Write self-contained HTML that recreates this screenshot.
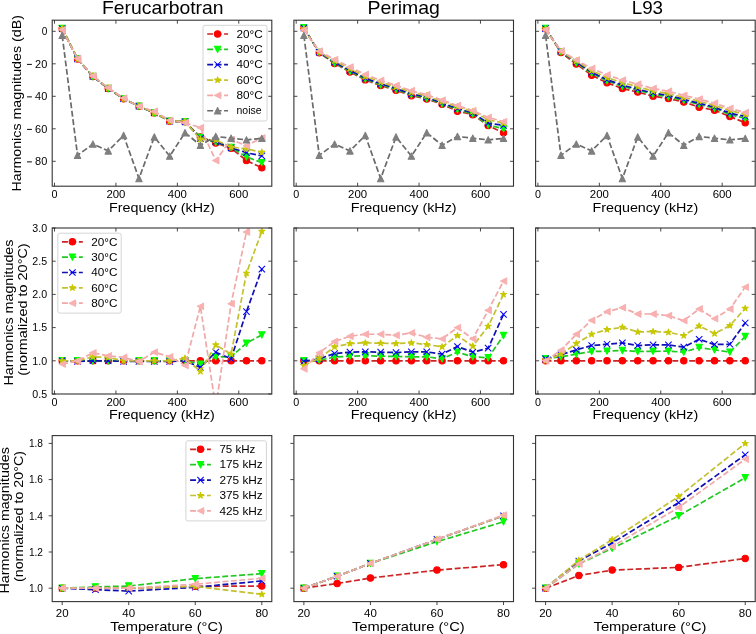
<!DOCTYPE html>
<html><head><meta charset="utf-8"><style>
html,body{margin:0;padding:0;background:#fff;}
svg{display:block;filter:blur(0.45px);}
text{font-family:"Liberation Sans", sans-serif;fill:#000000;}
</style></head><body>
<svg width="756" height="634" viewBox="0 0 756 634">
<rect width="756" height="634" fill="#ffffff"/>
<defs>
<clipPath id="c00"><rect x="52.2" y="20.2" width="219.6" height="166.0"/></clipPath>
<clipPath id="c01"><rect x="293.9" y="20.2" width="219.6" height="166.0"/></clipPath>
<clipPath id="c02"><rect x="535.6" y="20.2" width="219.6" height="166.0"/></clipPath>
<clipPath id="c10"><rect x="52.2" y="228.0" width="219.6" height="166.0"/></clipPath>
<clipPath id="c11"><rect x="293.9" y="228.0" width="219.6" height="166.0"/></clipPath>
<clipPath id="c12"><rect x="535.6" y="228.0" width="219.6" height="166.0"/></clipPath>
<clipPath id="c20"><rect x="52.2" y="435.6" width="219.6" height="166.0"/></clipPath>
<clipPath id="c21"><rect x="293.9" y="435.6" width="219.6" height="166.0"/></clipPath>
<clipPath id="c22"><rect x="535.6" y="435.6" width="219.6" height="166.0"/></clipPath>
</defs>
<g clip-path="url(#c00)">
<path d="M62.18,28.70L77.54,58.92L92.90,76.48L108.25,88.50L123.61,98.74L138.97,106.21L154.32,112.88L169.68,121.16L185.03,121.81L200.39,136.93L215.75,143.10L231.10,148.30L246.46,160.49L261.82,167.80" fill="none" stroke="#cc2424" stroke-width="1.7" stroke-dasharray="5.9,2.55"/>
<circle cx="62.18" cy="28.70" r="3.20" fill="#ff0000" stroke="#ff0000" stroke-width="1.05" stroke-linejoin="round"/>
<circle cx="77.54" cy="58.92" r="3.20" fill="#ff0000" stroke="#ff0000" stroke-width="1.05" stroke-linejoin="round"/>
<circle cx="92.90" cy="76.48" r="3.20" fill="#ff0000" stroke="#ff0000" stroke-width="1.05" stroke-linejoin="round"/>
<circle cx="108.25" cy="88.50" r="3.20" fill="#ff0000" stroke="#ff0000" stroke-width="1.05" stroke-linejoin="round"/>
<circle cx="123.61" cy="98.74" r="3.20" fill="#ff0000" stroke="#ff0000" stroke-width="1.05" stroke-linejoin="round"/>
<circle cx="138.97" cy="106.21" r="3.20" fill="#ff0000" stroke="#ff0000" stroke-width="1.05" stroke-linejoin="round"/>
<circle cx="154.32" cy="112.88" r="3.20" fill="#ff0000" stroke="#ff0000" stroke-width="1.05" stroke-linejoin="round"/>
<circle cx="169.68" cy="121.16" r="3.20" fill="#ff0000" stroke="#ff0000" stroke-width="1.05" stroke-linejoin="round"/>
<circle cx="185.03" cy="121.81" r="3.20" fill="#ff0000" stroke="#ff0000" stroke-width="1.05" stroke-linejoin="round"/>
<circle cx="200.39" cy="136.93" r="3.20" fill="#ff0000" stroke="#ff0000" stroke-width="1.05" stroke-linejoin="round"/>
<circle cx="215.75" cy="143.10" r="3.20" fill="#ff0000" stroke="#ff0000" stroke-width="1.05" stroke-linejoin="round"/>
<circle cx="231.10" cy="148.30" r="3.20" fill="#ff0000" stroke="#ff0000" stroke-width="1.05" stroke-linejoin="round"/>
<circle cx="246.46" cy="160.49" r="3.20" fill="#ff0000" stroke="#ff0000" stroke-width="1.05" stroke-linejoin="round"/>
<circle cx="261.82" cy="167.80" r="3.20" fill="#ff0000" stroke="#ff0000" stroke-width="1.05" stroke-linejoin="round"/>
<path d="M62.18,28.38L77.54,58.92L92.90,76.48L108.25,88.50L123.61,98.74L138.97,106.21L154.32,112.88L169.68,121.16L185.03,121.81L200.39,137.58L215.75,142.29L231.10,147.49L246.46,156.91L261.82,162.60" fill="none" stroke="#22c822" stroke-width="1.7" stroke-dasharray="5.9,2.55"/>
<path d="M58.98,25.18L65.38,25.18L62.18,31.57Z" fill="#00ff00" stroke="#00ff00" stroke-width="1.05" stroke-linejoin="round"/>
<path d="M74.34,55.72L80.74,55.72L77.54,62.12Z" fill="#00ff00" stroke="#00ff00" stroke-width="1.05" stroke-linejoin="round"/>
<path d="M89.70,73.28L96.10,73.28L92.90,79.68Z" fill="#00ff00" stroke="#00ff00" stroke-width="1.05" stroke-linejoin="round"/>
<path d="M105.05,85.30L111.45,85.30L108.25,91.70Z" fill="#00ff00" stroke="#00ff00" stroke-width="1.05" stroke-linejoin="round"/>
<path d="M120.41,95.54L126.81,95.54L123.61,101.94Z" fill="#00ff00" stroke="#00ff00" stroke-width="1.05" stroke-linejoin="round"/>
<path d="M135.77,103.01L142.17,103.01L138.97,109.41Z" fill="#00ff00" stroke="#00ff00" stroke-width="1.05" stroke-linejoin="round"/>
<path d="M151.12,109.67L157.52,109.67L154.32,116.08Z" fill="#00ff00" stroke="#00ff00" stroke-width="1.05" stroke-linejoin="round"/>
<path d="M166.48,117.96L172.88,117.96L169.68,124.36Z" fill="#00ff00" stroke="#00ff00" stroke-width="1.05" stroke-linejoin="round"/>
<path d="M181.83,118.61L188.23,118.61L185.03,125.01Z" fill="#00ff00" stroke="#00ff00" stroke-width="1.05" stroke-linejoin="round"/>
<path d="M197.19,134.38L203.59,134.38L200.39,140.78Z" fill="#00ff00" stroke="#00ff00" stroke-width="1.05" stroke-linejoin="round"/>
<path d="M212.55,139.09L218.95,139.09L215.75,145.49Z" fill="#00ff00" stroke="#00ff00" stroke-width="1.05" stroke-linejoin="round"/>
<path d="M227.90,144.29L234.30,144.29L231.10,150.69Z" fill="#00ff00" stroke="#00ff00" stroke-width="1.05" stroke-linejoin="round"/>
<path d="M243.26,153.71L249.66,153.71L246.46,160.11Z" fill="#00ff00" stroke="#00ff00" stroke-width="1.05" stroke-linejoin="round"/>
<path d="M258.62,159.40L265.02,159.40L261.82,165.80Z" fill="#00ff00" stroke="#00ff00" stroke-width="1.05" stroke-linejoin="round"/>
<path d="M62.18,28.70L77.54,58.92L92.90,76.48L108.25,88.50L123.61,98.74L138.97,106.21L154.32,112.88L169.68,121.16L185.03,121.81L200.39,138.39L215.75,141.31L231.10,147.81L246.46,152.69L261.82,155.94" fill="none" stroke="#1010b4" stroke-width="1.7" stroke-dasharray="5.9,2.55"/>
<path d="M58.98,25.50L65.38,31.90M58.98,31.90L65.38,25.50" stroke="#0000ff" stroke-width="1.05" fill="none"/>
<path d="M74.34,55.72L80.74,62.12M74.34,62.12L80.74,55.72" stroke="#0000ff" stroke-width="1.05" fill="none"/>
<path d="M89.70,73.28L96.10,79.68M89.70,79.68L96.10,73.28" stroke="#0000ff" stroke-width="1.05" fill="none"/>
<path d="M105.05,85.30L111.45,91.70M105.05,91.70L111.45,85.30" stroke="#0000ff" stroke-width="1.05" fill="none"/>
<path d="M120.41,95.54L126.81,101.94M120.41,101.94L126.81,95.54" stroke="#0000ff" stroke-width="1.05" fill="none"/>
<path d="M135.77,103.01L142.17,109.41M135.77,109.41L142.17,103.01" stroke="#0000ff" stroke-width="1.05" fill="none"/>
<path d="M151.12,109.67L157.52,116.08M151.12,116.08L157.52,109.67" stroke="#0000ff" stroke-width="1.05" fill="none"/>
<path d="M166.48,117.96L172.88,124.36M166.48,124.36L172.88,117.96" stroke="#0000ff" stroke-width="1.05" fill="none"/>
<path d="M181.83,118.61L188.23,125.01M181.83,125.01L188.23,118.61" stroke="#0000ff" stroke-width="1.05" fill="none"/>
<path d="M197.19,135.19L203.59,141.59M197.19,141.59L203.59,135.19" stroke="#0000ff" stroke-width="1.05" fill="none"/>
<path d="M212.55,138.11L218.95,144.51M212.55,144.51L218.95,138.11" stroke="#0000ff" stroke-width="1.05" fill="none"/>
<path d="M227.90,144.61L234.30,151.01M227.90,151.01L234.30,144.61" stroke="#0000ff" stroke-width="1.05" fill="none"/>
<path d="M243.26,149.49L249.66,155.89M243.26,155.89L249.66,149.49" stroke="#0000ff" stroke-width="1.05" fill="none"/>
<path d="M258.62,152.74L265.02,159.14M258.62,159.14L265.02,152.74" stroke="#0000ff" stroke-width="1.05" fill="none"/>
<path d="M62.18,28.54L77.54,58.92L92.90,76.15L108.25,88.17L123.61,98.74L138.97,106.21L154.32,112.88L169.68,121.16L185.03,121.32L200.39,139.36L215.75,140.01L231.10,147.00L246.46,148.95L261.82,152.20" fill="none" stroke="#c4c030" stroke-width="1.7" stroke-dasharray="5.9,2.55"/>
<path d="M62.18,25.34L62.90,27.55L65.23,27.55L63.34,28.92L64.06,31.13L62.18,29.76L60.30,31.13L61.02,28.92L59.14,27.55L61.46,27.55Z" fill="#c8c800" stroke="#c8c800" stroke-width="1.05" stroke-linejoin="round"/>
<path d="M77.54,55.72L78.26,57.94L80.58,57.94L78.70,59.30L79.42,61.51L77.54,60.15L75.66,61.51L76.38,59.30L74.50,57.94L76.82,57.94Z" fill="#c8c800" stroke="#c8c800" stroke-width="1.05" stroke-linejoin="round"/>
<path d="M92.90,72.95L93.61,75.16L95.94,75.16L94.06,76.53L94.78,78.74L92.90,77.37L91.01,78.74L91.73,76.53L89.85,75.16L92.18,75.16Z" fill="#c8c800" stroke="#c8c800" stroke-width="1.05" stroke-linejoin="round"/>
<path d="M108.25,84.97L108.97,87.19L111.30,87.19L109.41,88.55L110.13,90.76L108.25,89.40L106.37,90.76L107.09,88.55L105.21,87.19L107.53,87.19Z" fill="#c8c800" stroke="#c8c800" stroke-width="1.05" stroke-linejoin="round"/>
<path d="M123.61,95.54L124.33,97.75L126.65,97.75L124.77,99.12L125.49,101.33L123.61,99.96L121.73,101.33L122.45,99.12L120.57,97.75L122.89,97.75Z" fill="#c8c800" stroke="#c8c800" stroke-width="1.05" stroke-linejoin="round"/>
<path d="M138.97,103.01L139.68,105.22L142.01,105.22L140.13,106.59L140.85,108.80L138.97,107.43L137.08,108.80L137.80,106.59L135.92,105.22L138.25,105.22Z" fill="#c8c800" stroke="#c8c800" stroke-width="1.05" stroke-linejoin="round"/>
<path d="M154.32,109.67L155.04,111.89L157.37,111.89L155.48,113.25L156.20,115.46L154.32,114.10L152.44,115.46L153.16,113.25L151.28,111.89L153.60,111.89Z" fill="#c8c800" stroke="#c8c800" stroke-width="1.05" stroke-linejoin="round"/>
<path d="M169.68,117.96L170.40,120.17L172.72,120.17L170.84,121.54L171.56,123.75L169.68,122.38L167.80,123.75L168.52,121.54L166.63,120.17L168.96,120.17Z" fill="#c8c800" stroke="#c8c800" stroke-width="1.05" stroke-linejoin="round"/>
<path d="M185.03,118.12L185.75,120.34L188.08,120.34L186.20,121.70L186.92,123.91L185.03,122.55L183.15,123.91L183.87,121.70L181.99,120.34L184.32,120.34Z" fill="#c8c800" stroke="#c8c800" stroke-width="1.05" stroke-linejoin="round"/>
<path d="M200.39,136.16L201.11,138.37L203.43,138.37L201.55,139.74L202.27,141.95L200.39,140.58L198.51,141.95L199.23,139.74L197.35,138.37L199.67,138.37Z" fill="#c8c800" stroke="#c8c800" stroke-width="1.05" stroke-linejoin="round"/>
<path d="M215.75,136.81L216.47,139.02L218.79,139.02L216.91,140.39L217.63,142.60L215.75,141.23L213.87,142.60L214.59,140.39L212.70,139.02L215.03,139.02Z" fill="#c8c800" stroke="#c8c800" stroke-width="1.05" stroke-linejoin="round"/>
<path d="M231.10,143.80L231.82,146.01L234.15,146.01L232.27,147.38L232.99,149.59L231.10,148.22L229.22,149.59L229.94,147.38L228.06,146.01L230.39,146.01Z" fill="#c8c800" stroke="#c8c800" stroke-width="1.05" stroke-linejoin="round"/>
<path d="M246.46,145.75L247.18,147.96L249.50,147.96L247.62,149.33L248.34,151.54L246.46,150.17L244.58,151.54L245.30,149.33L243.42,147.96L245.74,147.96Z" fill="#c8c800" stroke="#c8c800" stroke-width="1.05" stroke-linejoin="round"/>
<path d="M261.82,149.00L262.54,151.21L264.86,151.21L262.98,152.58L263.70,154.79L261.82,153.42L259.94,154.79L260.66,152.58L258.77,151.21L261.10,151.21Z" fill="#c8c800" stroke="#c8c800" stroke-width="1.05" stroke-linejoin="round"/>
<path d="M62.18,29.68L77.54,58.60L92.90,75.99L108.25,87.85L123.61,98.09L138.97,106.38L154.32,111.25L169.68,120.35L185.03,122.79L200.39,127.66L215.75,160.49L231.10,139.53L246.46,145.70L261.82,137.90" fill="none" stroke="#f0a8a8" stroke-width="1.7" stroke-dasharray="5.9,2.55"/>
<path d="M65.38,26.48L65.38,32.88L58.98,29.68Z" fill="#f8b0b0" stroke="#f8b0b0" stroke-width="1.05" stroke-linejoin="round"/>
<path d="M80.74,55.40L80.74,61.80L74.34,58.60Z" fill="#f8b0b0" stroke="#f8b0b0" stroke-width="1.05" stroke-linejoin="round"/>
<path d="M96.10,72.79L96.10,79.19L89.70,75.99Z" fill="#f8b0b0" stroke="#f8b0b0" stroke-width="1.05" stroke-linejoin="round"/>
<path d="M111.45,84.65L111.45,91.05L105.05,87.85Z" fill="#f8b0b0" stroke="#f8b0b0" stroke-width="1.05" stroke-linejoin="round"/>
<path d="M126.81,94.89L126.81,101.29L120.41,98.09Z" fill="#f8b0b0" stroke="#f8b0b0" stroke-width="1.05" stroke-linejoin="round"/>
<path d="M142.17,103.17L142.17,109.58L135.77,106.38Z" fill="#f8b0b0" stroke="#f8b0b0" stroke-width="1.05" stroke-linejoin="round"/>
<path d="M157.52,108.05L157.52,114.45L151.12,111.25Z" fill="#f8b0b0" stroke="#f8b0b0" stroke-width="1.05" stroke-linejoin="round"/>
<path d="M172.88,117.15L172.88,123.55L166.48,120.35Z" fill="#f8b0b0" stroke="#f8b0b0" stroke-width="1.05" stroke-linejoin="round"/>
<path d="M188.23,119.59L188.23,125.99L181.83,122.79Z" fill="#f8b0b0" stroke="#f8b0b0" stroke-width="1.05" stroke-linejoin="round"/>
<path d="M203.59,124.46L203.59,130.86L197.19,127.66Z" fill="#f8b0b0" stroke="#f8b0b0" stroke-width="1.05" stroke-linejoin="round"/>
<path d="M218.95,157.29L218.95,163.69L212.55,160.49Z" fill="#f8b0b0" stroke="#f8b0b0" stroke-width="1.05" stroke-linejoin="round"/>
<path d="M234.30,136.33L234.30,142.72L227.90,139.53Z" fill="#f8b0b0" stroke="#f8b0b0" stroke-width="1.05" stroke-linejoin="round"/>
<path d="M249.66,142.50L249.66,148.90L243.26,145.70Z" fill="#f8b0b0" stroke="#f8b0b0" stroke-width="1.05" stroke-linejoin="round"/>
<path d="M265.02,134.70L265.02,141.10L258.62,137.90Z" fill="#f8b0b0" stroke="#f8b0b0" stroke-width="1.05" stroke-linejoin="round"/>
<path d="M62.18,35.36L77.54,155.29L92.90,144.08L108.25,150.90L123.61,135.46L138.97,178.53L154.32,136.93L169.68,156.10L185.03,132.70L200.39,145.21L215.75,136.44L231.10,138.22L246.46,139.85L261.82,138.39" fill="none" stroke="#6a6a6a" stroke-width="1.7" stroke-dasharray="5.9,2.55"/>
<path d="M58.98,38.56L65.38,38.56L62.18,32.16Z" fill="#7f7f7f" stroke="#7f7f7f" stroke-width="1.05" stroke-linejoin="round"/>
<path d="M74.34,158.49L80.74,158.49L77.54,152.09Z" fill="#7f7f7f" stroke="#7f7f7f" stroke-width="1.05" stroke-linejoin="round"/>
<path d="M89.70,147.28L96.10,147.28L92.90,140.88Z" fill="#7f7f7f" stroke="#7f7f7f" stroke-width="1.05" stroke-linejoin="round"/>
<path d="M105.05,154.10L111.45,154.10L108.25,147.70Z" fill="#7f7f7f" stroke="#7f7f7f" stroke-width="1.05" stroke-linejoin="round"/>
<path d="M120.41,138.66L126.81,138.66L123.61,132.26Z" fill="#7f7f7f" stroke="#7f7f7f" stroke-width="1.05" stroke-linejoin="round"/>
<path d="M135.77,181.72L142.17,181.72L138.97,175.33Z" fill="#7f7f7f" stroke="#7f7f7f" stroke-width="1.05" stroke-linejoin="round"/>
<path d="M151.12,140.12L157.52,140.12L154.32,133.73Z" fill="#7f7f7f" stroke="#7f7f7f" stroke-width="1.05" stroke-linejoin="round"/>
<path d="M166.48,159.30L172.88,159.30L169.68,152.90Z" fill="#7f7f7f" stroke="#7f7f7f" stroke-width="1.05" stroke-linejoin="round"/>
<path d="M181.83,135.90L188.23,135.90L185.03,129.50Z" fill="#7f7f7f" stroke="#7f7f7f" stroke-width="1.05" stroke-linejoin="round"/>
<path d="M197.19,148.41L203.59,148.41L200.39,142.01Z" fill="#7f7f7f" stroke="#7f7f7f" stroke-width="1.05" stroke-linejoin="round"/>
<path d="M212.55,139.64L218.95,139.64L215.75,133.24Z" fill="#7f7f7f" stroke="#7f7f7f" stroke-width="1.05" stroke-linejoin="round"/>
<path d="M227.90,141.42L234.30,141.42L231.10,135.03Z" fill="#7f7f7f" stroke="#7f7f7f" stroke-width="1.05" stroke-linejoin="round"/>
<path d="M243.26,143.05L249.66,143.05L246.46,136.65Z" fill="#7f7f7f" stroke="#7f7f7f" stroke-width="1.05" stroke-linejoin="round"/>
<path d="M258.62,141.59L265.02,141.59L261.82,135.19Z" fill="#7f7f7f" stroke="#7f7f7f" stroke-width="1.05" stroke-linejoin="round"/>
</g>
<path d="M54.50,186.20v-3.5M54.50,20.20v3.5M115.93,186.20v-3.5M115.93,20.20v3.5M177.36,186.20v-3.5M177.36,20.20v3.5M238.78,186.20v-3.5M238.78,20.20v3.5M52.20,31.30h3.5M271.80,31.30h-3.5M52.20,63.80h3.5M271.80,63.80h-3.5M52.20,96.30h3.5M271.80,96.30h-3.5M52.20,128.80h3.5M271.80,128.80h-3.5M52.20,161.30h3.5M271.80,161.30h-3.5" stroke="#333333" stroke-width="0.9" fill="none"/>
<rect x="52.2" y="20.2" width="219.6" height="166.0" fill="none" stroke="#333333" stroke-width="1.1"/>
<text x="54.50" y="198.00" font-size="10.3" text-anchor="middle" textLength="6.0" lengthAdjust="spacingAndGlyphs">0</text>
<text x="115.93" y="198.00" font-size="10.3" text-anchor="middle" textLength="19.0" lengthAdjust="spacingAndGlyphs">200</text>
<text x="177.36" y="198.00" font-size="10.3" text-anchor="middle" textLength="19.0" lengthAdjust="spacingAndGlyphs">400</text>
<text x="238.78" y="198.00" font-size="10.3" text-anchor="middle" textLength="19.0" lengthAdjust="spacingAndGlyphs">600</text>
<text x="47.30" y="35.00" font-size="10.3" text-anchor="end" textLength="5.6" lengthAdjust="spacingAndGlyphs">0</text>
<text x="47.30" y="67.50" font-size="10.3" text-anchor="end" textLength="12.2" lengthAdjust="spacingAndGlyphs">20</text>
<rect x="27.0" y="63.90" width="4.9" height="0.95" fill="#000000"/>
<text x="47.30" y="100.00" font-size="10.3" text-anchor="end" textLength="12.2" lengthAdjust="spacingAndGlyphs">40</text>
<rect x="27.0" y="96.40" width="4.9" height="0.95" fill="#000000"/>
<text x="47.30" y="132.50" font-size="10.3" text-anchor="end" textLength="12.2" lengthAdjust="spacingAndGlyphs">60</text>
<rect x="27.0" y="128.90" width="4.9" height="0.95" fill="#000000"/>
<text x="47.30" y="165.00" font-size="10.3" text-anchor="end" textLength="12.2" lengthAdjust="spacingAndGlyphs">80</text>
<rect x="27.0" y="161.40" width="4.9" height="0.95" fill="#000000"/>
<text x="162.00" y="211.50" font-size="12.4" text-anchor="middle" textLength="105.8" lengthAdjust="spacingAndGlyphs">Frequency (kHz)</text>
<g clip-path="url(#c01)">
<path d="M303.88,28.05L319.24,52.75L334.60,63.48L349.95,71.92L365.31,79.89L380.67,85.58L396.02,90.29L411.38,95.65L426.73,99.06L442.09,104.26L457.45,111.25L472.80,114.66L488.16,125.55L503.52,132.86" fill="none" stroke="#cc2424" stroke-width="1.7" stroke-dasharray="5.9,2.55"/>
<circle cx="303.88" cy="28.05" r="3.20" fill="#ff0000" stroke="#ff0000" stroke-width="1.05" stroke-linejoin="round"/>
<circle cx="319.24" cy="52.75" r="3.20" fill="#ff0000" stroke="#ff0000" stroke-width="1.05" stroke-linejoin="round"/>
<circle cx="334.60" cy="63.48" r="3.20" fill="#ff0000" stroke="#ff0000" stroke-width="1.05" stroke-linejoin="round"/>
<circle cx="349.95" cy="71.92" r="3.20" fill="#ff0000" stroke="#ff0000" stroke-width="1.05" stroke-linejoin="round"/>
<circle cx="365.31" cy="79.89" r="3.20" fill="#ff0000" stroke="#ff0000" stroke-width="1.05" stroke-linejoin="round"/>
<circle cx="380.67" cy="85.58" r="3.20" fill="#ff0000" stroke="#ff0000" stroke-width="1.05" stroke-linejoin="round"/>
<circle cx="396.02" cy="90.29" r="3.20" fill="#ff0000" stroke="#ff0000" stroke-width="1.05" stroke-linejoin="round"/>
<circle cx="411.38" cy="95.65" r="3.20" fill="#ff0000" stroke="#ff0000" stroke-width="1.05" stroke-linejoin="round"/>
<circle cx="426.73" cy="99.06" r="3.20" fill="#ff0000" stroke="#ff0000" stroke-width="1.05" stroke-linejoin="round"/>
<circle cx="442.09" cy="104.26" r="3.20" fill="#ff0000" stroke="#ff0000" stroke-width="1.05" stroke-linejoin="round"/>
<circle cx="457.45" cy="111.25" r="3.20" fill="#ff0000" stroke="#ff0000" stroke-width="1.05" stroke-linejoin="round"/>
<circle cx="472.80" cy="114.66" r="3.20" fill="#ff0000" stroke="#ff0000" stroke-width="1.05" stroke-linejoin="round"/>
<circle cx="488.16" cy="125.55" r="3.20" fill="#ff0000" stroke="#ff0000" stroke-width="1.05" stroke-linejoin="round"/>
<circle cx="503.52" cy="132.86" r="3.20" fill="#ff0000" stroke="#ff0000" stroke-width="1.05" stroke-linejoin="round"/>
<path d="M303.88,27.73L319.24,52.42L334.60,62.99L349.95,71.28L365.31,79.08L380.67,84.76L396.02,89.47L411.38,94.84L426.73,98.25L442.09,103.78L457.45,109.46L472.80,113.85L488.16,124.90L503.52,128.80" fill="none" stroke="#22c822" stroke-width="1.7" stroke-dasharray="5.9,2.55"/>
<path d="M300.68,24.53L307.08,24.53L303.88,30.93Z" fill="#00ff00" stroke="#00ff00" stroke-width="1.05" stroke-linejoin="round"/>
<path d="M316.04,49.22L322.44,49.22L319.24,55.62Z" fill="#00ff00" stroke="#00ff00" stroke-width="1.05" stroke-linejoin="round"/>
<path d="M331.40,59.79L337.80,59.79L334.60,66.19Z" fill="#00ff00" stroke="#00ff00" stroke-width="1.05" stroke-linejoin="round"/>
<path d="M346.75,68.08L353.15,68.08L349.95,74.48Z" fill="#00ff00" stroke="#00ff00" stroke-width="1.05" stroke-linejoin="round"/>
<path d="M362.11,75.88L368.51,75.88L365.31,82.28Z" fill="#00ff00" stroke="#00ff00" stroke-width="1.05" stroke-linejoin="round"/>
<path d="M377.47,81.56L383.87,81.56L380.67,87.96Z" fill="#00ff00" stroke="#00ff00" stroke-width="1.05" stroke-linejoin="round"/>
<path d="M392.82,86.27L399.22,86.27L396.02,92.67Z" fill="#00ff00" stroke="#00ff00" stroke-width="1.05" stroke-linejoin="round"/>
<path d="M408.18,91.64L414.58,91.64L411.38,98.04Z" fill="#00ff00" stroke="#00ff00" stroke-width="1.05" stroke-linejoin="round"/>
<path d="M423.53,95.05L429.93,95.05L426.73,101.45Z" fill="#00ff00" stroke="#00ff00" stroke-width="1.05" stroke-linejoin="round"/>
<path d="M438.89,100.58L445.29,100.58L442.09,106.98Z" fill="#00ff00" stroke="#00ff00" stroke-width="1.05" stroke-linejoin="round"/>
<path d="M454.25,106.26L460.65,106.26L457.45,112.66Z" fill="#00ff00" stroke="#00ff00" stroke-width="1.05" stroke-linejoin="round"/>
<path d="M469.60,110.65L476.00,110.65L472.80,117.05Z" fill="#00ff00" stroke="#00ff00" stroke-width="1.05" stroke-linejoin="round"/>
<path d="M484.96,121.70L491.36,121.70L488.16,128.10Z" fill="#00ff00" stroke="#00ff00" stroke-width="1.05" stroke-linejoin="round"/>
<path d="M500.32,125.60L506.72,125.60L503.52,132.00Z" fill="#00ff00" stroke="#00ff00" stroke-width="1.05" stroke-linejoin="round"/>
<path d="M303.88,28.05L319.24,52.26L334.60,62.17L349.95,70.30L365.31,78.10L380.67,83.79L396.02,88.50L411.38,93.86L426.73,97.28L442.09,102.96L457.45,108.49L472.80,112.88L488.16,123.11L503.52,125.39" fill="none" stroke="#1010b4" stroke-width="1.7" stroke-dasharray="5.9,2.55"/>
<path d="M300.68,24.85L307.08,31.25M300.68,31.25L307.08,24.85" stroke="#0000ff" stroke-width="1.05" fill="none"/>
<path d="M316.04,49.06L322.44,55.46M316.04,55.46L322.44,49.06" stroke="#0000ff" stroke-width="1.05" fill="none"/>
<path d="M331.40,58.97L337.80,65.38M331.40,65.38L337.80,58.97" stroke="#0000ff" stroke-width="1.05" fill="none"/>
<path d="M346.75,67.10L353.15,73.50M346.75,73.50L353.15,67.10" stroke="#0000ff" stroke-width="1.05" fill="none"/>
<path d="M362.11,74.90L368.51,81.30M362.11,81.30L368.51,74.90" stroke="#0000ff" stroke-width="1.05" fill="none"/>
<path d="M377.47,80.59L383.87,86.99M377.47,86.99L383.87,80.59" stroke="#0000ff" stroke-width="1.05" fill="none"/>
<path d="M392.82,85.30L399.22,91.70M392.82,91.70L399.22,85.30" stroke="#0000ff" stroke-width="1.05" fill="none"/>
<path d="M408.18,90.66L414.58,97.06M408.18,97.06L414.58,90.66" stroke="#0000ff" stroke-width="1.05" fill="none"/>
<path d="M423.53,94.08L429.93,100.48M423.53,100.48L429.93,94.08" stroke="#0000ff" stroke-width="1.05" fill="none"/>
<path d="M438.89,99.76L445.29,106.16M438.89,106.16L445.29,99.76" stroke="#0000ff" stroke-width="1.05" fill="none"/>
<path d="M454.25,105.29L460.65,111.69M454.25,111.69L460.65,105.29" stroke="#0000ff" stroke-width="1.05" fill="none"/>
<path d="M469.60,109.67L476.00,116.08M469.60,116.08L476.00,109.67" stroke="#0000ff" stroke-width="1.05" fill="none"/>
<path d="M484.96,119.91L491.36,126.31M484.96,126.31L491.36,119.91" stroke="#0000ff" stroke-width="1.05" fill="none"/>
<path d="M500.32,122.19L506.72,128.59M500.32,128.59L506.72,122.19" stroke="#0000ff" stroke-width="1.05" fill="none"/>
<path d="M303.88,28.70L319.24,51.94L334.60,61.04L349.95,68.67L365.31,76.48L380.67,82.16L396.02,86.88L411.38,92.24L426.73,95.81L442.09,101.50L457.45,106.70L472.80,111.57L488.16,119.70L503.52,123.11" fill="none" stroke="#c4c030" stroke-width="1.7" stroke-dasharray="5.9,2.55"/>
<path d="M303.88,25.50L304.60,27.71L306.93,27.71L305.04,29.08L305.76,31.29L303.88,29.92L302.00,31.29L302.72,29.08L300.84,27.71L303.16,27.71Z" fill="#c8c800" stroke="#c8c800" stroke-width="1.05" stroke-linejoin="round"/>
<path d="M319.24,48.74L319.96,50.95L322.28,50.95L320.40,52.32L321.12,54.53L319.24,53.16L317.36,54.53L318.08,52.32L316.20,50.95L318.52,50.95Z" fill="#c8c800" stroke="#c8c800" stroke-width="1.05" stroke-linejoin="round"/>
<path d="M334.60,57.84L335.31,60.05L337.64,60.05L335.76,61.42L336.48,63.63L334.60,62.26L332.71,63.63L333.43,61.42L331.55,60.05L333.88,60.05Z" fill="#c8c800" stroke="#c8c800" stroke-width="1.05" stroke-linejoin="round"/>
<path d="M349.95,65.47L350.67,67.69L353.00,67.69L351.11,69.05L351.83,71.26L349.95,69.90L348.07,71.26L348.79,69.05L346.91,67.69L349.23,67.69Z" fill="#c8c800" stroke="#c8c800" stroke-width="1.05" stroke-linejoin="round"/>
<path d="M365.31,73.28L366.03,75.49L368.35,75.49L366.47,76.85L367.19,79.06L365.31,77.70L363.43,79.06L364.15,76.85L362.27,75.49L364.59,75.49Z" fill="#c8c800" stroke="#c8c800" stroke-width="1.05" stroke-linejoin="round"/>
<path d="M380.67,78.96L381.38,81.17L383.71,81.17L381.83,82.54L382.55,84.75L380.67,83.38L378.78,84.75L379.50,82.54L377.62,81.17L379.95,81.17Z" fill="#c8c800" stroke="#c8c800" stroke-width="1.05" stroke-linejoin="round"/>
<path d="M396.02,83.67L396.74,85.89L399.07,85.89L397.18,87.25L397.90,89.46L396.02,88.10L394.14,89.46L394.86,87.25L392.98,85.89L395.30,85.89Z" fill="#c8c800" stroke="#c8c800" stroke-width="1.05" stroke-linejoin="round"/>
<path d="M411.38,89.04L412.10,91.25L414.42,91.25L412.54,92.62L413.26,94.83L411.38,93.46L409.50,94.83L410.22,92.62L408.33,91.25L410.66,91.25Z" fill="#c8c800" stroke="#c8c800" stroke-width="1.05" stroke-linejoin="round"/>
<path d="M426.73,92.61L427.45,94.82L429.78,94.82L427.90,96.19L428.62,98.40L426.73,97.03L424.85,98.40L425.57,96.19L423.69,94.82L426.02,94.82Z" fill="#c8c800" stroke="#c8c800" stroke-width="1.05" stroke-linejoin="round"/>
<path d="M442.09,98.30L442.81,100.51L445.13,100.51L443.25,101.88L443.97,104.09L442.09,102.72L440.21,104.09L440.93,101.88L439.05,100.51L441.37,100.51Z" fill="#c8c800" stroke="#c8c800" stroke-width="1.05" stroke-linejoin="round"/>
<path d="M457.45,103.50L458.17,105.71L460.49,105.71L458.61,107.08L459.33,109.29L457.45,107.92L455.57,109.29L456.29,107.08L454.40,105.71L456.73,105.71Z" fill="#c8c800" stroke="#c8c800" stroke-width="1.05" stroke-linejoin="round"/>
<path d="M472.80,108.37L473.52,110.59L475.85,110.59L473.97,111.95L474.69,114.16L472.80,112.80L470.92,114.16L471.64,111.95L469.76,110.59L472.09,110.59Z" fill="#c8c800" stroke="#c8c800" stroke-width="1.05" stroke-linejoin="round"/>
<path d="M488.16,116.50L488.88,118.71L491.20,118.71L489.32,120.08L490.04,122.29L488.16,120.92L486.28,122.29L487.00,120.08L485.12,118.71L487.44,118.71Z" fill="#c8c800" stroke="#c8c800" stroke-width="1.05" stroke-linejoin="round"/>
<path d="M503.52,119.91L504.24,122.12L506.56,122.12L504.68,123.49L505.40,125.70L503.52,124.33L501.64,125.70L502.36,123.49L500.47,122.12L502.80,122.12Z" fill="#c8c800" stroke="#c8c800" stroke-width="1.05" stroke-linejoin="round"/>
<path d="M303.88,29.84L319.24,51.12L334.60,59.58L349.95,67.05L365.31,74.53L380.67,80.38L396.02,85.41L411.38,90.78L426.73,94.67L442.09,100.20L457.45,105.56L472.80,110.60L488.16,117.42L503.52,121.65" fill="none" stroke="#f0a8a8" stroke-width="1.7" stroke-dasharray="5.9,2.55"/>
<path d="M307.08,26.64L307.08,33.04L300.68,29.84Z" fill="#f8b0b0" stroke="#f8b0b0" stroke-width="1.05" stroke-linejoin="round"/>
<path d="M322.44,47.92L322.44,54.33L316.04,51.12Z" fill="#f8b0b0" stroke="#f8b0b0" stroke-width="1.05" stroke-linejoin="round"/>
<path d="M337.80,56.38L337.80,62.78L331.40,59.58Z" fill="#f8b0b0" stroke="#f8b0b0" stroke-width="1.05" stroke-linejoin="round"/>
<path d="M353.15,63.85L353.15,70.25L346.75,67.05Z" fill="#f8b0b0" stroke="#f8b0b0" stroke-width="1.05" stroke-linejoin="round"/>
<path d="M368.51,71.33L368.51,77.73L362.11,74.53Z" fill="#f8b0b0" stroke="#f8b0b0" stroke-width="1.05" stroke-linejoin="round"/>
<path d="M383.87,77.17L383.87,83.58L377.47,80.38Z" fill="#f8b0b0" stroke="#f8b0b0" stroke-width="1.05" stroke-linejoin="round"/>
<path d="M399.22,82.21L399.22,88.61L392.82,85.41Z" fill="#f8b0b0" stroke="#f8b0b0" stroke-width="1.05" stroke-linejoin="round"/>
<path d="M414.58,87.58L414.58,93.98L408.18,90.78Z" fill="#f8b0b0" stroke="#f8b0b0" stroke-width="1.05" stroke-linejoin="round"/>
<path d="M429.93,91.47L429.93,97.88L423.53,94.67Z" fill="#f8b0b0" stroke="#f8b0b0" stroke-width="1.05" stroke-linejoin="round"/>
<path d="M445.29,97.00L445.29,103.40L438.89,100.20Z" fill="#f8b0b0" stroke="#f8b0b0" stroke-width="1.05" stroke-linejoin="round"/>
<path d="M460.65,102.36L460.65,108.76L454.25,105.56Z" fill="#f8b0b0" stroke="#f8b0b0" stroke-width="1.05" stroke-linejoin="round"/>
<path d="M476.00,107.40L476.00,113.80L469.60,110.60Z" fill="#f8b0b0" stroke="#f8b0b0" stroke-width="1.05" stroke-linejoin="round"/>
<path d="M491.36,114.22L491.36,120.62L484.96,117.42Z" fill="#f8b0b0" stroke="#f8b0b0" stroke-width="1.05" stroke-linejoin="round"/>
<path d="M506.72,118.45L506.72,124.85L500.32,121.65Z" fill="#f8b0b0" stroke="#f8b0b0" stroke-width="1.05" stroke-linejoin="round"/>
<path d="M303.88,35.36L319.24,155.29L334.60,144.08L349.95,150.90L365.31,135.46L380.67,178.53L396.02,136.93L411.38,156.10L426.73,132.70L442.09,145.21L457.45,136.44L472.80,138.22L488.16,139.85L503.52,138.39" fill="none" stroke="#6a6a6a" stroke-width="1.7" stroke-dasharray="5.9,2.55"/>
<path d="M300.68,38.56L307.08,38.56L303.88,32.16Z" fill="#7f7f7f" stroke="#7f7f7f" stroke-width="1.05" stroke-linejoin="round"/>
<path d="M316.04,158.49L322.44,158.49L319.24,152.09Z" fill="#7f7f7f" stroke="#7f7f7f" stroke-width="1.05" stroke-linejoin="round"/>
<path d="M331.40,147.28L337.80,147.28L334.60,140.88Z" fill="#7f7f7f" stroke="#7f7f7f" stroke-width="1.05" stroke-linejoin="round"/>
<path d="M346.75,154.10L353.15,154.10L349.95,147.70Z" fill="#7f7f7f" stroke="#7f7f7f" stroke-width="1.05" stroke-linejoin="round"/>
<path d="M362.11,138.66L368.51,138.66L365.31,132.26Z" fill="#7f7f7f" stroke="#7f7f7f" stroke-width="1.05" stroke-linejoin="round"/>
<path d="M377.47,181.72L383.87,181.72L380.67,175.33Z" fill="#7f7f7f" stroke="#7f7f7f" stroke-width="1.05" stroke-linejoin="round"/>
<path d="M392.82,140.12L399.22,140.12L396.02,133.73Z" fill="#7f7f7f" stroke="#7f7f7f" stroke-width="1.05" stroke-linejoin="round"/>
<path d="M408.18,159.30L414.58,159.30L411.38,152.90Z" fill="#7f7f7f" stroke="#7f7f7f" stroke-width="1.05" stroke-linejoin="round"/>
<path d="M423.53,135.90L429.93,135.90L426.73,129.50Z" fill="#7f7f7f" stroke="#7f7f7f" stroke-width="1.05" stroke-linejoin="round"/>
<path d="M438.89,148.41L445.29,148.41L442.09,142.01Z" fill="#7f7f7f" stroke="#7f7f7f" stroke-width="1.05" stroke-linejoin="round"/>
<path d="M454.25,139.64L460.65,139.64L457.45,133.24Z" fill="#7f7f7f" stroke="#7f7f7f" stroke-width="1.05" stroke-linejoin="round"/>
<path d="M469.60,141.42L476.00,141.42L472.80,135.03Z" fill="#7f7f7f" stroke="#7f7f7f" stroke-width="1.05" stroke-linejoin="round"/>
<path d="M484.96,143.05L491.36,143.05L488.16,136.65Z" fill="#7f7f7f" stroke="#7f7f7f" stroke-width="1.05" stroke-linejoin="round"/>
<path d="M500.32,141.59L506.72,141.59L503.52,135.19Z" fill="#7f7f7f" stroke="#7f7f7f" stroke-width="1.05" stroke-linejoin="round"/>
</g>
<path d="M296.20,186.20v-3.5M296.20,20.20v3.5M357.63,186.20v-3.5M357.63,20.20v3.5M419.06,186.20v-3.5M419.06,20.20v3.5M480.48,186.20v-3.5M480.48,20.20v3.5M293.90,31.30h3.5M513.50,31.30h-3.5M293.90,63.80h3.5M513.50,63.80h-3.5M293.90,96.30h3.5M513.50,96.30h-3.5M293.90,128.80h3.5M513.50,128.80h-3.5M293.90,161.30h3.5M513.50,161.30h-3.5" stroke="#333333" stroke-width="0.9" fill="none"/>
<rect x="293.9" y="20.2" width="219.6" height="166.0" fill="none" stroke="#333333" stroke-width="1.1"/>
<text x="296.20" y="198.00" font-size="10.3" text-anchor="middle" textLength="6.0" lengthAdjust="spacingAndGlyphs">0</text>
<text x="357.63" y="198.00" font-size="10.3" text-anchor="middle" textLength="19.0" lengthAdjust="spacingAndGlyphs">200</text>
<text x="419.06" y="198.00" font-size="10.3" text-anchor="middle" textLength="19.0" lengthAdjust="spacingAndGlyphs">400</text>
<text x="480.48" y="198.00" font-size="10.3" text-anchor="middle" textLength="19.0" lengthAdjust="spacingAndGlyphs">600</text>
<text x="403.70" y="211.50" font-size="12.4" text-anchor="middle" textLength="105.8" lengthAdjust="spacingAndGlyphs">Frequency (kHz)</text>
<g clip-path="url(#c02)">
<path d="M545.58,28.70L560.94,52.59L576.30,64.12L591.65,75.17L607.01,82.81L622.37,88.50L637.72,92.08L653.08,96.14L668.43,98.57L683.79,101.99L699.15,107.19L714.50,110.28L729.86,116.45L745.22,122.79" fill="none" stroke="#cc2424" stroke-width="1.7" stroke-dasharray="5.9,2.55"/>
<circle cx="545.58" cy="28.70" r="3.20" fill="#ff0000" stroke="#ff0000" stroke-width="1.05" stroke-linejoin="round"/>
<circle cx="560.94" cy="52.59" r="3.20" fill="#ff0000" stroke="#ff0000" stroke-width="1.05" stroke-linejoin="round"/>
<circle cx="576.30" cy="64.12" r="3.20" fill="#ff0000" stroke="#ff0000" stroke-width="1.05" stroke-linejoin="round"/>
<circle cx="591.65" cy="75.17" r="3.20" fill="#ff0000" stroke="#ff0000" stroke-width="1.05" stroke-linejoin="round"/>
<circle cx="607.01" cy="82.81" r="3.20" fill="#ff0000" stroke="#ff0000" stroke-width="1.05" stroke-linejoin="round"/>
<circle cx="622.37" cy="88.50" r="3.20" fill="#ff0000" stroke="#ff0000" stroke-width="1.05" stroke-linejoin="round"/>
<circle cx="637.72" cy="92.08" r="3.20" fill="#ff0000" stroke="#ff0000" stroke-width="1.05" stroke-linejoin="round"/>
<circle cx="653.08" cy="96.14" r="3.20" fill="#ff0000" stroke="#ff0000" stroke-width="1.05" stroke-linejoin="round"/>
<circle cx="668.43" cy="98.57" r="3.20" fill="#ff0000" stroke="#ff0000" stroke-width="1.05" stroke-linejoin="round"/>
<circle cx="683.79" cy="101.99" r="3.20" fill="#ff0000" stroke="#ff0000" stroke-width="1.05" stroke-linejoin="round"/>
<circle cx="699.15" cy="107.19" r="3.20" fill="#ff0000" stroke="#ff0000" stroke-width="1.05" stroke-linejoin="round"/>
<circle cx="714.50" cy="110.28" r="3.20" fill="#ff0000" stroke="#ff0000" stroke-width="1.05" stroke-linejoin="round"/>
<circle cx="729.86" cy="116.45" r="3.20" fill="#ff0000" stroke="#ff0000" stroke-width="1.05" stroke-linejoin="round"/>
<circle cx="745.22" cy="122.79" r="3.20" fill="#ff0000" stroke="#ff0000" stroke-width="1.05" stroke-linejoin="round"/>
<path d="M545.58,28.38L560.94,51.77L576.30,62.83L591.65,73.39L607.01,80.86L622.37,86.39L637.72,90.29L653.08,94.35L668.43,96.79L683.79,100.36L699.15,104.59L714.50,108.16L729.86,114.66L745.22,118.40" fill="none" stroke="#22c822" stroke-width="1.7" stroke-dasharray="5.9,2.55"/>
<path d="M542.38,25.18L548.78,25.18L545.58,31.57Z" fill="#00ff00" stroke="#00ff00" stroke-width="1.05" stroke-linejoin="round"/>
<path d="M557.74,48.57L564.14,48.57L560.94,54.98Z" fill="#00ff00" stroke="#00ff00" stroke-width="1.05" stroke-linejoin="round"/>
<path d="M573.10,59.62L579.50,59.62L576.30,66.03Z" fill="#00ff00" stroke="#00ff00" stroke-width="1.05" stroke-linejoin="round"/>
<path d="M588.45,70.19L594.85,70.19L591.65,76.59Z" fill="#00ff00" stroke="#00ff00" stroke-width="1.05" stroke-linejoin="round"/>
<path d="M603.81,77.66L610.21,77.66L607.01,84.06Z" fill="#00ff00" stroke="#00ff00" stroke-width="1.05" stroke-linejoin="round"/>
<path d="M619.17,83.19L625.57,83.19L622.37,89.59Z" fill="#00ff00" stroke="#00ff00" stroke-width="1.05" stroke-linejoin="round"/>
<path d="M634.52,87.09L640.92,87.09L637.72,93.49Z" fill="#00ff00" stroke="#00ff00" stroke-width="1.05" stroke-linejoin="round"/>
<path d="M649.88,91.15L656.28,91.15L653.08,97.55Z" fill="#00ff00" stroke="#00ff00" stroke-width="1.05" stroke-linejoin="round"/>
<path d="M665.23,93.59L671.63,93.59L668.43,99.99Z" fill="#00ff00" stroke="#00ff00" stroke-width="1.05" stroke-linejoin="round"/>
<path d="M680.59,97.16L686.99,97.16L683.79,103.56Z" fill="#00ff00" stroke="#00ff00" stroke-width="1.05" stroke-linejoin="round"/>
<path d="M695.95,101.39L702.35,101.39L699.15,107.79Z" fill="#00ff00" stroke="#00ff00" stroke-width="1.05" stroke-linejoin="round"/>
<path d="M711.30,104.96L717.70,104.96L714.50,111.36Z" fill="#00ff00" stroke="#00ff00" stroke-width="1.05" stroke-linejoin="round"/>
<path d="M726.66,111.46L733.06,111.46L729.86,117.86Z" fill="#00ff00" stroke="#00ff00" stroke-width="1.05" stroke-linejoin="round"/>
<path d="M742.02,115.20L748.42,115.20L745.22,121.60Z" fill="#00ff00" stroke="#00ff00" stroke-width="1.05" stroke-linejoin="round"/>
<path d="M545.58,28.70L560.94,51.45L576.30,62.01L591.65,72.25L607.01,79.73L622.37,85.09L637.72,89.15L653.08,93.05L668.43,95.49L683.79,99.39L699.15,103.29L714.50,107.19L729.86,113.20L745.22,116.45" fill="none" stroke="#1010b4" stroke-width="1.7" stroke-dasharray="5.9,2.55"/>
<path d="M542.38,25.50L548.78,31.90M542.38,31.90L548.78,25.50" stroke="#0000ff" stroke-width="1.05" fill="none"/>
<path d="M557.74,48.25L564.14,54.65M557.74,54.65L564.14,48.25" stroke="#0000ff" stroke-width="1.05" fill="none"/>
<path d="M573.10,58.81L579.50,65.21M573.10,65.21L579.50,58.81" stroke="#0000ff" stroke-width="1.05" fill="none"/>
<path d="M588.45,69.05L594.85,75.45M588.45,75.45L594.85,69.05" stroke="#0000ff" stroke-width="1.05" fill="none"/>
<path d="M603.81,76.53L610.21,82.93M603.81,82.93L610.21,76.53" stroke="#0000ff" stroke-width="1.05" fill="none"/>
<path d="M619.17,81.89L625.57,88.29M619.17,88.29L625.57,81.89" stroke="#0000ff" stroke-width="1.05" fill="none"/>
<path d="M634.52,85.95L640.92,92.35M634.52,92.35L640.92,85.95" stroke="#0000ff" stroke-width="1.05" fill="none"/>
<path d="M649.88,89.85L656.28,96.25M649.88,96.25L656.28,89.85" stroke="#0000ff" stroke-width="1.05" fill="none"/>
<path d="M665.23,92.29L671.63,98.69M665.23,98.69L671.63,92.29" stroke="#0000ff" stroke-width="1.05" fill="none"/>
<path d="M680.59,96.19L686.99,102.59M680.59,102.59L686.99,96.19" stroke="#0000ff" stroke-width="1.05" fill="none"/>
<path d="M695.95,100.09L702.35,106.49M695.95,106.49L702.35,100.09" stroke="#0000ff" stroke-width="1.05" fill="none"/>
<path d="M711.30,103.99L717.70,110.39M711.30,110.39L717.70,103.99" stroke="#0000ff" stroke-width="1.05" fill="none"/>
<path d="M726.66,110.00L733.06,116.40M726.66,116.40L733.06,110.00" stroke="#0000ff" stroke-width="1.05" fill="none"/>
<path d="M742.02,113.25L748.42,119.65M742.02,119.65L748.42,113.25" stroke="#0000ff" stroke-width="1.05" fill="none"/>
<path d="M545.58,28.86L560.94,51.61L576.30,60.88L591.65,70.46L607.01,77.61L622.37,82.65L637.72,86.71L653.08,90.94L668.43,93.54L683.79,97.44L699.15,101.17L714.50,105.40L729.86,110.44L745.22,114.50" fill="none" stroke="#c4c030" stroke-width="1.7" stroke-dasharray="5.9,2.55"/>
<path d="M545.58,25.66L546.30,27.87L548.63,27.87L546.74,29.24L547.46,31.45L545.58,30.08L543.70,31.45L544.42,29.24L542.54,27.87L544.86,27.87Z" fill="#c8c800" stroke="#c8c800" stroke-width="1.05" stroke-linejoin="round"/>
<path d="M560.94,48.41L561.66,50.62L563.98,50.62L562.10,51.99L562.82,54.20L560.94,52.83L559.06,54.20L559.78,51.99L557.90,50.62L560.22,50.62Z" fill="#c8c800" stroke="#c8c800" stroke-width="1.05" stroke-linejoin="round"/>
<path d="M576.30,57.67L577.01,59.89L579.34,59.89L577.46,61.25L578.18,63.46L576.30,62.10L574.41,63.46L575.13,61.25L573.25,59.89L575.58,59.89Z" fill="#c8c800" stroke="#c8c800" stroke-width="1.05" stroke-linejoin="round"/>
<path d="M591.65,67.26L592.37,69.47L594.70,69.47L592.81,70.84L593.53,73.05L591.65,71.68L589.77,73.05L590.49,70.84L588.61,69.47L590.93,69.47Z" fill="#c8c800" stroke="#c8c800" stroke-width="1.05" stroke-linejoin="round"/>
<path d="M607.01,74.41L607.73,76.62L610.05,76.62L608.17,77.99L608.89,80.20L607.01,78.83L605.13,80.20L605.85,77.99L603.97,76.62L606.29,76.62Z" fill="#c8c800" stroke="#c8c800" stroke-width="1.05" stroke-linejoin="round"/>
<path d="M622.37,79.45L623.08,81.66L625.41,81.66L623.53,83.03L624.25,85.24L622.37,83.87L620.48,85.24L621.20,83.03L619.32,81.66L621.65,81.66Z" fill="#c8c800" stroke="#c8c800" stroke-width="1.05" stroke-linejoin="round"/>
<path d="M637.72,83.51L638.44,85.72L640.77,85.72L638.88,87.09L639.60,89.30L637.72,87.93L635.84,89.30L636.56,87.09L634.68,85.72L637.00,85.72Z" fill="#c8c800" stroke="#c8c800" stroke-width="1.05" stroke-linejoin="round"/>
<path d="M653.08,87.74L653.80,89.95L656.12,89.95L654.24,91.32L654.96,93.53L653.08,92.16L651.20,93.53L651.92,91.32L650.03,89.95L652.36,89.95Z" fill="#c8c800" stroke="#c8c800" stroke-width="1.05" stroke-linejoin="round"/>
<path d="M668.43,90.34L669.15,92.55L671.48,92.55L669.60,93.92L670.32,96.13L668.43,94.76L666.55,96.13L667.27,93.92L665.39,92.55L667.72,92.55Z" fill="#c8c800" stroke="#c8c800" stroke-width="1.05" stroke-linejoin="round"/>
<path d="M683.79,94.24L684.51,96.45L686.83,96.45L684.95,97.82L685.67,100.03L683.79,98.66L681.91,100.03L682.63,97.82L680.75,96.45L683.07,96.45Z" fill="#c8c800" stroke="#c8c800" stroke-width="1.05" stroke-linejoin="round"/>
<path d="M699.15,97.97L699.87,100.19L702.19,100.19L700.31,101.55L701.03,103.76L699.15,102.40L697.27,103.76L697.99,101.55L696.10,100.19L698.43,100.19Z" fill="#c8c800" stroke="#c8c800" stroke-width="1.05" stroke-linejoin="round"/>
<path d="M714.50,102.20L715.22,104.41L717.55,104.41L715.67,105.78L716.39,107.99L714.50,106.62L712.62,107.99L713.34,105.78L711.46,104.41L713.79,104.41Z" fill="#c8c800" stroke="#c8c800" stroke-width="1.05" stroke-linejoin="round"/>
<path d="M729.86,107.24L730.58,109.45L732.90,109.45L731.02,110.82L731.74,113.03L729.86,111.66L727.98,113.03L728.70,110.82L726.82,109.45L729.14,109.45Z" fill="#c8c800" stroke="#c8c800" stroke-width="1.05" stroke-linejoin="round"/>
<path d="M745.22,111.30L745.94,113.51L748.26,113.51L746.38,114.88L747.10,117.09L745.22,115.72L743.34,117.09L744.06,114.88L742.17,113.51L744.50,113.51Z" fill="#c8c800" stroke="#c8c800" stroke-width="1.05" stroke-linejoin="round"/>
<path d="M545.58,29.68L560.94,50.80L576.30,59.90L591.65,68.51L607.01,74.85L622.37,80.05L637.72,84.28L653.08,88.50L668.43,91.26L683.79,95.32L699.15,99.06L714.50,103.29L729.86,108.32L745.22,112.55" fill="none" stroke="#f0a8a8" stroke-width="1.7" stroke-dasharray="5.9,2.55"/>
<path d="M548.78,26.48L548.78,32.88L542.38,29.68Z" fill="#f8b0b0" stroke="#f8b0b0" stroke-width="1.05" stroke-linejoin="round"/>
<path d="M564.14,47.60L564.14,54.00L557.74,50.80Z" fill="#f8b0b0" stroke="#f8b0b0" stroke-width="1.05" stroke-linejoin="round"/>
<path d="M579.50,56.70L579.50,63.10L573.10,59.90Z" fill="#f8b0b0" stroke="#f8b0b0" stroke-width="1.05" stroke-linejoin="round"/>
<path d="M594.85,65.31L594.85,71.71L588.45,68.51Z" fill="#f8b0b0" stroke="#f8b0b0" stroke-width="1.05" stroke-linejoin="round"/>
<path d="M610.21,71.65L610.21,78.05L603.81,74.85Z" fill="#f8b0b0" stroke="#f8b0b0" stroke-width="1.05" stroke-linejoin="round"/>
<path d="M625.57,76.85L625.57,83.25L619.17,80.05Z" fill="#f8b0b0" stroke="#f8b0b0" stroke-width="1.05" stroke-linejoin="round"/>
<path d="M640.92,81.08L640.92,87.48L634.52,84.28Z" fill="#f8b0b0" stroke="#f8b0b0" stroke-width="1.05" stroke-linejoin="round"/>
<path d="M656.28,85.30L656.28,91.70L649.88,88.50Z" fill="#f8b0b0" stroke="#f8b0b0" stroke-width="1.05" stroke-linejoin="round"/>
<path d="M671.63,88.06L671.63,94.46L665.23,91.26Z" fill="#f8b0b0" stroke="#f8b0b0" stroke-width="1.05" stroke-linejoin="round"/>
<path d="M686.99,92.12L686.99,98.52L680.59,95.32Z" fill="#f8b0b0" stroke="#f8b0b0" stroke-width="1.05" stroke-linejoin="round"/>
<path d="M702.35,95.86L702.35,102.26L695.95,99.06Z" fill="#f8b0b0" stroke="#f8b0b0" stroke-width="1.05" stroke-linejoin="round"/>
<path d="M717.70,100.09L717.70,106.49L711.30,103.29Z" fill="#f8b0b0" stroke="#f8b0b0" stroke-width="1.05" stroke-linejoin="round"/>
<path d="M733.06,105.12L733.06,111.52L726.66,108.32Z" fill="#f8b0b0" stroke="#f8b0b0" stroke-width="1.05" stroke-linejoin="round"/>
<path d="M748.42,109.35L748.42,115.75L742.02,112.55Z" fill="#f8b0b0" stroke="#f8b0b0" stroke-width="1.05" stroke-linejoin="round"/>
<path d="M545.58,35.36L560.94,155.29L576.30,144.08L591.65,150.90L607.01,135.46L622.37,178.53L637.72,136.93L653.08,156.10L668.43,132.70L683.79,145.21L699.15,136.44L714.50,138.22L729.86,139.85L745.22,138.39" fill="none" stroke="#6a6a6a" stroke-width="1.7" stroke-dasharray="5.9,2.55"/>
<path d="M542.38,38.56L548.78,38.56L545.58,32.16Z" fill="#7f7f7f" stroke="#7f7f7f" stroke-width="1.05" stroke-linejoin="round"/>
<path d="M557.74,158.49L564.14,158.49L560.94,152.09Z" fill="#7f7f7f" stroke="#7f7f7f" stroke-width="1.05" stroke-linejoin="round"/>
<path d="M573.10,147.28L579.50,147.28L576.30,140.88Z" fill="#7f7f7f" stroke="#7f7f7f" stroke-width="1.05" stroke-linejoin="round"/>
<path d="M588.45,154.10L594.85,154.10L591.65,147.70Z" fill="#7f7f7f" stroke="#7f7f7f" stroke-width="1.05" stroke-linejoin="round"/>
<path d="M603.81,138.66L610.21,138.66L607.01,132.26Z" fill="#7f7f7f" stroke="#7f7f7f" stroke-width="1.05" stroke-linejoin="round"/>
<path d="M619.17,181.72L625.57,181.72L622.37,175.33Z" fill="#7f7f7f" stroke="#7f7f7f" stroke-width="1.05" stroke-linejoin="round"/>
<path d="M634.52,140.12L640.92,140.12L637.72,133.73Z" fill="#7f7f7f" stroke="#7f7f7f" stroke-width="1.05" stroke-linejoin="round"/>
<path d="M649.88,159.30L656.28,159.30L653.08,152.90Z" fill="#7f7f7f" stroke="#7f7f7f" stroke-width="1.05" stroke-linejoin="round"/>
<path d="M665.23,135.90L671.63,135.90L668.43,129.50Z" fill="#7f7f7f" stroke="#7f7f7f" stroke-width="1.05" stroke-linejoin="round"/>
<path d="M680.59,148.41L686.99,148.41L683.79,142.01Z" fill="#7f7f7f" stroke="#7f7f7f" stroke-width="1.05" stroke-linejoin="round"/>
<path d="M695.95,139.64L702.35,139.64L699.15,133.24Z" fill="#7f7f7f" stroke="#7f7f7f" stroke-width="1.05" stroke-linejoin="round"/>
<path d="M711.30,141.42L717.70,141.42L714.50,135.03Z" fill="#7f7f7f" stroke="#7f7f7f" stroke-width="1.05" stroke-linejoin="round"/>
<path d="M726.66,143.05L733.06,143.05L729.86,136.65Z" fill="#7f7f7f" stroke="#7f7f7f" stroke-width="1.05" stroke-linejoin="round"/>
<path d="M742.02,141.59L748.42,141.59L745.22,135.19Z" fill="#7f7f7f" stroke="#7f7f7f" stroke-width="1.05" stroke-linejoin="round"/>
</g>
<path d="M537.90,186.20v-3.5M537.90,20.20v3.5M599.33,186.20v-3.5M599.33,20.20v3.5M660.76,186.20v-3.5M660.76,20.20v3.5M722.18,186.20v-3.5M722.18,20.20v3.5M535.60,31.30h3.5M755.20,31.30h-3.5M535.60,63.80h3.5M755.20,63.80h-3.5M535.60,96.30h3.5M755.20,96.30h-3.5M535.60,128.80h3.5M755.20,128.80h-3.5M535.60,161.30h3.5M755.20,161.30h-3.5" stroke="#333333" stroke-width="0.9" fill="none"/>
<rect x="535.6" y="20.2" width="219.6" height="166.0" fill="none" stroke="#333333" stroke-width="1.1"/>
<text x="537.90" y="198.00" font-size="10.3" text-anchor="middle" textLength="6.0" lengthAdjust="spacingAndGlyphs">0</text>
<text x="599.33" y="198.00" font-size="10.3" text-anchor="middle" textLength="19.0" lengthAdjust="spacingAndGlyphs">200</text>
<text x="660.76" y="198.00" font-size="10.3" text-anchor="middle" textLength="19.0" lengthAdjust="spacingAndGlyphs">400</text>
<text x="722.18" y="198.00" font-size="10.3" text-anchor="middle" textLength="19.0" lengthAdjust="spacingAndGlyphs">600</text>
<text x="645.40" y="211.50" font-size="12.4" text-anchor="middle" textLength="105.8" lengthAdjust="spacingAndGlyphs">Frequency (kHz)</text>
<g clip-path="url(#c10)">
<path d="M62.18,360.80L77.54,360.80L92.90,360.80L108.25,360.80L123.61,360.80L138.97,360.80L154.32,360.80L169.68,360.80L185.03,360.80L200.39,360.80L215.75,360.80L231.10,360.80L246.46,360.80L261.82,360.80" fill="none" stroke="#cc2424" stroke-width="1.7" stroke-dasharray="5.9,2.55"/>
<circle cx="62.18" cy="360.80" r="3.20" fill="#ff0000" stroke="#ff0000" stroke-width="1.05" stroke-linejoin="round"/>
<circle cx="77.54" cy="360.80" r="3.20" fill="#ff0000" stroke="#ff0000" stroke-width="1.05" stroke-linejoin="round"/>
<circle cx="92.90" cy="360.80" r="3.20" fill="#ff0000" stroke="#ff0000" stroke-width="1.05" stroke-linejoin="round"/>
<circle cx="108.25" cy="360.80" r="3.20" fill="#ff0000" stroke="#ff0000" stroke-width="1.05" stroke-linejoin="round"/>
<circle cx="123.61" cy="360.80" r="3.20" fill="#ff0000" stroke="#ff0000" stroke-width="1.05" stroke-linejoin="round"/>
<circle cx="138.97" cy="360.80" r="3.20" fill="#ff0000" stroke="#ff0000" stroke-width="1.05" stroke-linejoin="round"/>
<circle cx="154.32" cy="360.80" r="3.20" fill="#ff0000" stroke="#ff0000" stroke-width="1.05" stroke-linejoin="round"/>
<circle cx="169.68" cy="360.80" r="3.20" fill="#ff0000" stroke="#ff0000" stroke-width="1.05" stroke-linejoin="round"/>
<circle cx="185.03" cy="360.80" r="3.20" fill="#ff0000" stroke="#ff0000" stroke-width="1.05" stroke-linejoin="round"/>
<circle cx="200.39" cy="360.80" r="3.20" fill="#ff0000" stroke="#ff0000" stroke-width="1.05" stroke-linejoin="round"/>
<circle cx="215.75" cy="360.80" r="3.20" fill="#ff0000" stroke="#ff0000" stroke-width="1.05" stroke-linejoin="round"/>
<circle cx="231.10" cy="360.80" r="3.20" fill="#ff0000" stroke="#ff0000" stroke-width="1.05" stroke-linejoin="round"/>
<circle cx="246.46" cy="360.80" r="3.20" fill="#ff0000" stroke="#ff0000" stroke-width="1.05" stroke-linejoin="round"/>
<circle cx="261.82" cy="360.80" r="3.20" fill="#ff0000" stroke="#ff0000" stroke-width="1.05" stroke-linejoin="round"/>
<path d="M62.18,360.80L77.54,360.80L92.90,360.80L108.25,360.80L123.61,360.80L138.97,360.80L154.32,360.80L169.68,360.80L185.03,360.80L200.39,364.12L215.75,356.82L231.10,356.82L246.46,343.20L261.82,334.90" fill="none" stroke="#22c822" stroke-width="1.7" stroke-dasharray="5.9,2.55"/>
<path d="M58.98,357.60L65.38,357.60L62.18,364.00Z" fill="#00ff00" stroke="#00ff00" stroke-width="1.05" stroke-linejoin="round"/>
<path d="M74.34,357.60L80.74,357.60L77.54,364.00Z" fill="#00ff00" stroke="#00ff00" stroke-width="1.05" stroke-linejoin="round"/>
<path d="M89.70,357.60L96.10,357.60L92.90,364.00Z" fill="#00ff00" stroke="#00ff00" stroke-width="1.05" stroke-linejoin="round"/>
<path d="M105.05,357.60L111.45,357.60L108.25,364.00Z" fill="#00ff00" stroke="#00ff00" stroke-width="1.05" stroke-linejoin="round"/>
<path d="M120.41,357.60L126.81,357.60L123.61,364.00Z" fill="#00ff00" stroke="#00ff00" stroke-width="1.05" stroke-linejoin="round"/>
<path d="M135.77,357.60L142.17,357.60L138.97,364.00Z" fill="#00ff00" stroke="#00ff00" stroke-width="1.05" stroke-linejoin="round"/>
<path d="M151.12,357.60L157.52,357.60L154.32,364.00Z" fill="#00ff00" stroke="#00ff00" stroke-width="1.05" stroke-linejoin="round"/>
<path d="M166.48,357.60L172.88,357.60L169.68,364.00Z" fill="#00ff00" stroke="#00ff00" stroke-width="1.05" stroke-linejoin="round"/>
<path d="M181.83,357.60L188.23,357.60L185.03,364.00Z" fill="#00ff00" stroke="#00ff00" stroke-width="1.05" stroke-linejoin="round"/>
<path d="M197.19,360.92L203.59,360.92L200.39,367.32Z" fill="#00ff00" stroke="#00ff00" stroke-width="1.05" stroke-linejoin="round"/>
<path d="M212.55,353.62L218.95,353.62L215.75,360.02Z" fill="#00ff00" stroke="#00ff00" stroke-width="1.05" stroke-linejoin="round"/>
<path d="M227.90,353.62L234.30,353.62L231.10,360.02Z" fill="#00ff00" stroke="#00ff00" stroke-width="1.05" stroke-linejoin="round"/>
<path d="M243.26,340.00L249.66,340.00L246.46,346.40Z" fill="#00ff00" stroke="#00ff00" stroke-width="1.05" stroke-linejoin="round"/>
<path d="M258.62,331.70L265.02,331.70L261.82,338.10Z" fill="#00ff00" stroke="#00ff00" stroke-width="1.05" stroke-linejoin="round"/>
<path d="M62.18,360.80L77.54,361.46L92.90,360.80L108.25,360.80L123.61,361.46L138.97,361.46L154.32,361.46L169.68,361.46L185.03,360.80L200.39,367.44L215.75,352.17L231.10,358.81L246.46,311.66L261.82,269.17" fill="none" stroke="#1010b4" stroke-width="1.7" stroke-dasharray="5.9,2.55"/>
<path d="M58.98,357.60L65.38,364.00M58.98,364.00L65.38,357.60" stroke="#0000ff" stroke-width="1.05" fill="none"/>
<path d="M74.34,358.26L80.74,364.66M74.34,364.66L80.74,358.26" stroke="#0000ff" stroke-width="1.05" fill="none"/>
<path d="M89.70,357.60L96.10,364.00M89.70,364.00L96.10,357.60" stroke="#0000ff" stroke-width="1.05" fill="none"/>
<path d="M105.05,357.60L111.45,364.00M105.05,364.00L111.45,357.60" stroke="#0000ff" stroke-width="1.05" fill="none"/>
<path d="M120.41,358.26L126.81,364.66M120.41,364.66L126.81,358.26" stroke="#0000ff" stroke-width="1.05" fill="none"/>
<path d="M135.77,358.26L142.17,364.66M135.77,364.66L142.17,358.26" stroke="#0000ff" stroke-width="1.05" fill="none"/>
<path d="M151.12,358.26L157.52,364.66M151.12,364.66L157.52,358.26" stroke="#0000ff" stroke-width="1.05" fill="none"/>
<path d="M166.48,358.26L172.88,364.66M166.48,364.66L172.88,358.26" stroke="#0000ff" stroke-width="1.05" fill="none"/>
<path d="M181.83,357.60L188.23,364.00M181.83,364.00L188.23,357.60" stroke="#0000ff" stroke-width="1.05" fill="none"/>
<path d="M197.19,364.24L203.59,370.64M197.19,370.64L203.59,364.24" stroke="#0000ff" stroke-width="1.05" fill="none"/>
<path d="M212.55,348.97L218.95,355.37M212.55,355.37L218.95,348.97" stroke="#0000ff" stroke-width="1.05" fill="none"/>
<path d="M227.90,355.61L234.30,362.01M227.90,362.01L234.30,355.61" stroke="#0000ff" stroke-width="1.05" fill="none"/>
<path d="M243.26,308.46L249.66,314.86M243.26,314.86L249.66,308.46" stroke="#0000ff" stroke-width="1.05" fill="none"/>
<path d="M258.62,265.97L265.02,272.37M258.62,272.37L265.02,265.97" stroke="#0000ff" stroke-width="1.05" fill="none"/>
<path d="M62.18,360.80L77.54,360.80L92.90,356.82L108.25,357.48L123.61,360.80L138.97,360.80L154.32,360.80L169.68,360.80L185.03,358.14L200.39,371.42L215.75,344.86L231.10,354.16L246.46,273.15L261.82,231.32" fill="none" stroke="#c4c030" stroke-width="1.7" stroke-dasharray="5.9,2.55"/>
<path d="M62.18,357.60L62.90,359.81L65.23,359.81L63.34,361.18L64.06,363.39L62.18,362.02L60.30,363.39L61.02,361.18L59.14,359.81L61.46,359.81Z" fill="#c8c800" stroke="#c8c800" stroke-width="1.05" stroke-linejoin="round"/>
<path d="M77.54,357.60L78.26,359.81L80.58,359.81L78.70,361.18L79.42,363.39L77.54,362.02L75.66,363.39L76.38,361.18L74.50,359.81L76.82,359.81Z" fill="#c8c800" stroke="#c8c800" stroke-width="1.05" stroke-linejoin="round"/>
<path d="M92.90,353.62L93.61,355.83L95.94,355.83L94.06,357.19L94.78,359.40L92.90,358.04L91.01,359.40L91.73,357.19L89.85,355.83L92.18,355.83Z" fill="#c8c800" stroke="#c8c800" stroke-width="1.05" stroke-linejoin="round"/>
<path d="M108.25,354.28L108.97,356.49L111.30,356.49L109.41,357.86L110.13,360.07L108.25,358.70L106.37,360.07L107.09,357.86L105.21,356.49L107.53,356.49Z" fill="#c8c800" stroke="#c8c800" stroke-width="1.05" stroke-linejoin="round"/>
<path d="M123.61,357.60L124.33,359.81L126.65,359.81L124.77,361.18L125.49,363.39L123.61,362.02L121.73,363.39L122.45,361.18L120.57,359.81L122.89,359.81Z" fill="#c8c800" stroke="#c8c800" stroke-width="1.05" stroke-linejoin="round"/>
<path d="M138.97,357.60L139.68,359.81L142.01,359.81L140.13,361.18L140.85,363.39L138.97,362.02L137.08,363.39L137.80,361.18L135.92,359.81L138.25,359.81Z" fill="#c8c800" stroke="#c8c800" stroke-width="1.05" stroke-linejoin="round"/>
<path d="M154.32,357.60L155.04,359.81L157.37,359.81L155.48,361.18L156.20,363.39L154.32,362.02L152.44,363.39L153.16,361.18L151.28,359.81L153.60,359.81Z" fill="#c8c800" stroke="#c8c800" stroke-width="1.05" stroke-linejoin="round"/>
<path d="M169.68,357.60L170.40,359.81L172.72,359.81L170.84,361.18L171.56,363.39L169.68,362.02L167.80,363.39L168.52,361.18L166.63,359.81L168.96,359.81Z" fill="#c8c800" stroke="#c8c800" stroke-width="1.05" stroke-linejoin="round"/>
<path d="M185.03,354.94L185.75,357.16L188.08,357.16L186.20,358.52L186.92,360.73L185.03,359.37L183.15,360.73L183.87,358.52L181.99,357.16L184.32,357.16Z" fill="#c8c800" stroke="#c8c800" stroke-width="1.05" stroke-linejoin="round"/>
<path d="M200.39,368.22L201.11,370.44L203.43,370.44L201.55,371.80L202.27,374.01L200.39,372.65L198.51,374.01L199.23,371.80L197.35,370.44L199.67,370.44Z" fill="#c8c800" stroke="#c8c800" stroke-width="1.05" stroke-linejoin="round"/>
<path d="M215.75,341.66L216.47,343.88L218.79,343.88L216.91,345.24L217.63,347.45L215.75,346.09L213.87,347.45L214.59,345.24L212.70,343.88L215.03,343.88Z" fill="#c8c800" stroke="#c8c800" stroke-width="1.05" stroke-linejoin="round"/>
<path d="M231.10,350.96L231.82,353.17L234.15,353.17L232.27,354.54L232.99,356.75L231.10,355.38L229.22,356.75L229.94,354.54L228.06,353.17L230.39,353.17Z" fill="#c8c800" stroke="#c8c800" stroke-width="1.05" stroke-linejoin="round"/>
<path d="M246.46,269.95L247.18,272.16L249.50,272.16L247.62,273.53L248.34,275.74L246.46,274.37L244.58,275.74L245.30,273.53L243.42,272.16L245.74,272.16Z" fill="#c8c800" stroke="#c8c800" stroke-width="1.05" stroke-linejoin="round"/>
<path d="M261.82,228.12L262.54,230.33L264.86,230.33L262.98,231.70L263.70,233.91L261.82,232.54L259.94,233.91L260.66,231.70L258.77,230.33L261.10,230.33Z" fill="#c8c800" stroke="#c8c800" stroke-width="1.05" stroke-linejoin="round"/>
<path d="M62.18,364.12L77.54,360.80L92.90,352.83L108.25,355.82L123.61,357.48L138.97,361.46L154.32,352.17L169.68,356.82L185.03,365.45L200.39,306.35L215.75,407.28L231.10,303.70L246.46,231.98L261.82,201.44" fill="none" stroke="#f0a8a8" stroke-width="1.7" stroke-dasharray="5.9,2.55"/>
<path d="M65.38,360.92L65.38,367.32L58.98,364.12Z" fill="#f8b0b0" stroke="#f8b0b0" stroke-width="1.05" stroke-linejoin="round"/>
<path d="M80.74,357.60L80.74,364.00L74.34,360.80Z" fill="#f8b0b0" stroke="#f8b0b0" stroke-width="1.05" stroke-linejoin="round"/>
<path d="M96.10,349.63L96.10,356.03L89.70,352.83Z" fill="#f8b0b0" stroke="#f8b0b0" stroke-width="1.05" stroke-linejoin="round"/>
<path d="M111.45,352.62L111.45,359.02L105.05,355.82Z" fill="#f8b0b0" stroke="#f8b0b0" stroke-width="1.05" stroke-linejoin="round"/>
<path d="M126.81,354.28L126.81,360.68L120.41,357.48Z" fill="#f8b0b0" stroke="#f8b0b0" stroke-width="1.05" stroke-linejoin="round"/>
<path d="M142.17,358.26L142.17,364.66L135.77,361.46Z" fill="#f8b0b0" stroke="#f8b0b0" stroke-width="1.05" stroke-linejoin="round"/>
<path d="M157.52,348.97L157.52,355.37L151.12,352.17Z" fill="#f8b0b0" stroke="#f8b0b0" stroke-width="1.05" stroke-linejoin="round"/>
<path d="M172.88,353.62L172.88,360.02L166.48,356.82Z" fill="#f8b0b0" stroke="#f8b0b0" stroke-width="1.05" stroke-linejoin="round"/>
<path d="M188.23,362.25L188.23,368.65L181.83,365.45Z" fill="#f8b0b0" stroke="#f8b0b0" stroke-width="1.05" stroke-linejoin="round"/>
<path d="M203.59,303.15L203.59,309.55L197.19,306.35Z" fill="#f8b0b0" stroke="#f8b0b0" stroke-width="1.05" stroke-linejoin="round"/>
<path d="M218.95,404.08L218.95,410.48L212.55,407.28Z" fill="#f8b0b0" stroke="#f8b0b0" stroke-width="1.05" stroke-linejoin="round"/>
<path d="M234.30,300.50L234.30,306.90L227.90,303.70Z" fill="#f8b0b0" stroke="#f8b0b0" stroke-width="1.05" stroke-linejoin="round"/>
<path d="M249.66,228.78L249.66,235.18L243.26,231.98Z" fill="#f8b0b0" stroke="#f8b0b0" stroke-width="1.05" stroke-linejoin="round"/>
<path d="M265.02,198.24L265.02,204.64L258.62,201.44Z" fill="#f8b0b0" stroke="#f8b0b0" stroke-width="1.05" stroke-linejoin="round"/>
</g>
<path d="M54.50,394.00v-3.5M54.50,228.00v3.5M115.93,394.00v-3.5M115.93,228.00v3.5M177.36,394.00v-3.5M177.36,228.00v3.5M238.78,394.00v-3.5M238.78,228.00v3.5M52.20,394.00h3.5M271.80,394.00h-3.5M52.20,360.80h3.5M271.80,360.80h-3.5M52.20,327.60h3.5M271.80,327.60h-3.5M52.20,294.40h3.5M271.80,294.40h-3.5M52.20,261.20h3.5M271.80,261.20h-3.5M52.20,228.00h3.5M271.80,228.00h-3.5" stroke="#333333" stroke-width="0.9" fill="none"/>
<rect x="52.2" y="228.0" width="219.6" height="166.0" fill="none" stroke="#333333" stroke-width="1.1"/>
<text x="54.50" y="405.80" font-size="10.3" text-anchor="middle" textLength="6.0" lengthAdjust="spacingAndGlyphs">0</text>
<text x="115.93" y="405.80" font-size="10.3" text-anchor="middle" textLength="19.0" lengthAdjust="spacingAndGlyphs">200</text>
<text x="177.36" y="405.80" font-size="10.3" text-anchor="middle" textLength="19.0" lengthAdjust="spacingAndGlyphs">400</text>
<text x="238.78" y="405.80" font-size="10.3" text-anchor="middle" textLength="19.0" lengthAdjust="spacingAndGlyphs">600</text>
<text x="47.10" y="397.70" font-size="10.3" text-anchor="end" textLength="14.8" lengthAdjust="spacingAndGlyphs">0.5</text>
<text x="47.10" y="364.50" font-size="10.3" text-anchor="end" textLength="14.8" lengthAdjust="spacingAndGlyphs">1.0</text>
<text x="47.10" y="331.30" font-size="10.3" text-anchor="end" textLength="14.8" lengthAdjust="spacingAndGlyphs">1.5</text>
<text x="47.10" y="298.10" font-size="10.3" text-anchor="end" textLength="14.8" lengthAdjust="spacingAndGlyphs">2.0</text>
<text x="47.10" y="264.90" font-size="10.3" text-anchor="end" textLength="14.8" lengthAdjust="spacingAndGlyphs">2.5</text>
<text x="47.10" y="231.70" font-size="10.3" text-anchor="end" textLength="14.8" lengthAdjust="spacingAndGlyphs">3.0</text>
<text x="162.00" y="419.30" font-size="12.4" text-anchor="middle" textLength="105.8" lengthAdjust="spacingAndGlyphs">Frequency (kHz)</text>
<g clip-path="url(#c11)">
<path d="M303.88,360.80L319.24,360.80L334.60,360.80L349.95,360.80L365.31,360.80L380.67,360.80L396.02,360.80L411.38,360.80L426.73,360.80L442.09,360.80L457.45,360.80L472.80,360.80L488.16,360.80L503.52,360.80" fill="none" stroke="#cc2424" stroke-width="1.7" stroke-dasharray="5.9,2.55"/>
<circle cx="303.88" cy="360.80" r="3.20" fill="#ff0000" stroke="#ff0000" stroke-width="1.05" stroke-linejoin="round"/>
<circle cx="319.24" cy="360.80" r="3.20" fill="#ff0000" stroke="#ff0000" stroke-width="1.05" stroke-linejoin="round"/>
<circle cx="334.60" cy="360.80" r="3.20" fill="#ff0000" stroke="#ff0000" stroke-width="1.05" stroke-linejoin="round"/>
<circle cx="349.95" cy="360.80" r="3.20" fill="#ff0000" stroke="#ff0000" stroke-width="1.05" stroke-linejoin="round"/>
<circle cx="365.31" cy="360.80" r="3.20" fill="#ff0000" stroke="#ff0000" stroke-width="1.05" stroke-linejoin="round"/>
<circle cx="380.67" cy="360.80" r="3.20" fill="#ff0000" stroke="#ff0000" stroke-width="1.05" stroke-linejoin="round"/>
<circle cx="396.02" cy="360.80" r="3.20" fill="#ff0000" stroke="#ff0000" stroke-width="1.05" stroke-linejoin="round"/>
<circle cx="411.38" cy="360.80" r="3.20" fill="#ff0000" stroke="#ff0000" stroke-width="1.05" stroke-linejoin="round"/>
<circle cx="426.73" cy="360.80" r="3.20" fill="#ff0000" stroke="#ff0000" stroke-width="1.05" stroke-linejoin="round"/>
<circle cx="442.09" cy="360.80" r="3.20" fill="#ff0000" stroke="#ff0000" stroke-width="1.05" stroke-linejoin="round"/>
<circle cx="457.45" cy="360.80" r="3.20" fill="#ff0000" stroke="#ff0000" stroke-width="1.05" stroke-linejoin="round"/>
<circle cx="472.80" cy="360.80" r="3.20" fill="#ff0000" stroke="#ff0000" stroke-width="1.05" stroke-linejoin="round"/>
<circle cx="488.16" cy="360.80" r="3.20" fill="#ff0000" stroke="#ff0000" stroke-width="1.05" stroke-linejoin="round"/>
<circle cx="503.52" cy="360.80" r="3.20" fill="#ff0000" stroke="#ff0000" stroke-width="1.05" stroke-linejoin="round"/>
<path d="M303.88,360.80L319.24,360.14L334.60,357.15L349.95,356.15L365.31,355.82L380.67,356.15L396.02,356.48L411.38,356.82L426.73,356.82L442.09,358.81L457.45,352.17L472.80,356.82L488.16,357.81L503.52,335.57" fill="none" stroke="#22c822" stroke-width="1.7" stroke-dasharray="5.9,2.55"/>
<path d="M300.68,357.60L307.08,357.60L303.88,364.00Z" fill="#00ff00" stroke="#00ff00" stroke-width="1.05" stroke-linejoin="round"/>
<path d="M316.04,356.94L322.44,356.94L319.24,363.34Z" fill="#00ff00" stroke="#00ff00" stroke-width="1.05" stroke-linejoin="round"/>
<path d="M331.40,353.95L337.80,353.95L334.60,360.35Z" fill="#00ff00" stroke="#00ff00" stroke-width="1.05" stroke-linejoin="round"/>
<path d="M346.75,352.95L353.15,352.95L349.95,359.35Z" fill="#00ff00" stroke="#00ff00" stroke-width="1.05" stroke-linejoin="round"/>
<path d="M362.11,352.62L368.51,352.62L365.31,359.02Z" fill="#00ff00" stroke="#00ff00" stroke-width="1.05" stroke-linejoin="round"/>
<path d="M377.47,352.95L383.87,352.95L380.67,359.35Z" fill="#00ff00" stroke="#00ff00" stroke-width="1.05" stroke-linejoin="round"/>
<path d="M392.82,353.28L399.22,353.28L396.02,359.68Z" fill="#00ff00" stroke="#00ff00" stroke-width="1.05" stroke-linejoin="round"/>
<path d="M408.18,353.62L414.58,353.62L411.38,360.02Z" fill="#00ff00" stroke="#00ff00" stroke-width="1.05" stroke-linejoin="round"/>
<path d="M423.53,353.62L429.93,353.62L426.73,360.02Z" fill="#00ff00" stroke="#00ff00" stroke-width="1.05" stroke-linejoin="round"/>
<path d="M438.89,355.61L445.29,355.61L442.09,362.01Z" fill="#00ff00" stroke="#00ff00" stroke-width="1.05" stroke-linejoin="round"/>
<path d="M454.25,348.97L460.65,348.97L457.45,355.37Z" fill="#00ff00" stroke="#00ff00" stroke-width="1.05" stroke-linejoin="round"/>
<path d="M469.60,353.62L476.00,353.62L472.80,360.02Z" fill="#00ff00" stroke="#00ff00" stroke-width="1.05" stroke-linejoin="round"/>
<path d="M484.96,354.61L491.36,354.61L488.16,361.01Z" fill="#00ff00" stroke="#00ff00" stroke-width="1.05" stroke-linejoin="round"/>
<path d="M500.32,332.37L506.72,332.37L503.52,338.77Z" fill="#00ff00" stroke="#00ff00" stroke-width="1.05" stroke-linejoin="round"/>
<path d="M303.88,361.46L319.24,358.81L334.60,353.50L349.95,352.17L365.31,351.84L380.67,352.17L396.02,352.50L411.38,351.84L426.73,351.84L442.09,354.16L457.45,346.52L472.80,352.17L488.16,348.18L503.52,314.32" fill="none" stroke="#1010b4" stroke-width="1.7" stroke-dasharray="5.9,2.55"/>
<path d="M300.68,358.26L307.08,364.66M300.68,364.66L307.08,358.26" stroke="#0000ff" stroke-width="1.05" fill="none"/>
<path d="M316.04,355.61L322.44,362.01M316.04,362.01L322.44,355.61" stroke="#0000ff" stroke-width="1.05" fill="none"/>
<path d="M331.40,350.30L337.80,356.70M331.40,356.70L337.80,350.30" stroke="#0000ff" stroke-width="1.05" fill="none"/>
<path d="M346.75,348.97L353.15,355.37M346.75,355.37L353.15,348.97" stroke="#0000ff" stroke-width="1.05" fill="none"/>
<path d="M362.11,348.64L368.51,355.04M362.11,355.04L368.51,348.64" stroke="#0000ff" stroke-width="1.05" fill="none"/>
<path d="M377.47,348.97L383.87,355.37M377.47,355.37L383.87,348.97" stroke="#0000ff" stroke-width="1.05" fill="none"/>
<path d="M392.82,349.30L399.22,355.70M392.82,355.70L399.22,349.30" stroke="#0000ff" stroke-width="1.05" fill="none"/>
<path d="M408.18,348.64L414.58,355.04M408.18,355.04L414.58,348.64" stroke="#0000ff" stroke-width="1.05" fill="none"/>
<path d="M423.53,348.64L429.93,355.04M423.53,355.04L429.93,348.64" stroke="#0000ff" stroke-width="1.05" fill="none"/>
<path d="M438.89,350.96L445.29,357.36M438.89,357.36L445.29,350.96" stroke="#0000ff" stroke-width="1.05" fill="none"/>
<path d="M454.25,343.32L460.65,349.72M454.25,349.72L460.65,343.32" stroke="#0000ff" stroke-width="1.05" fill="none"/>
<path d="M469.60,348.97L476.00,355.37M469.60,355.37L476.00,348.97" stroke="#0000ff" stroke-width="1.05" fill="none"/>
<path d="M484.96,344.98L491.36,351.38M484.96,351.38L491.36,344.98" stroke="#0000ff" stroke-width="1.05" fill="none"/>
<path d="M500.32,311.12L506.72,317.52M500.32,317.52L506.72,311.12" stroke="#0000ff" stroke-width="1.05" fill="none"/>
<path d="M303.88,365.45L319.24,358.14L334.60,346.86L349.95,343.54L365.31,342.87L380.67,343.20L396.02,343.54L411.38,342.87L426.73,344.53L442.09,346.86L457.45,335.57L472.80,346.19L488.16,326.27L503.52,294.40" fill="none" stroke="#c4c030" stroke-width="1.7" stroke-dasharray="5.9,2.55"/>
<path d="M303.88,362.25L304.60,364.46L306.93,364.46L305.04,365.83L305.76,368.04L303.88,366.67L302.00,368.04L302.72,365.83L300.84,364.46L303.16,364.46Z" fill="#c8c800" stroke="#c8c800" stroke-width="1.05" stroke-linejoin="round"/>
<path d="M319.24,354.94L319.96,357.16L322.28,357.16L320.40,358.52L321.12,360.73L319.24,359.37L317.36,360.73L318.08,358.52L316.20,357.16L318.52,357.16Z" fill="#c8c800" stroke="#c8c800" stroke-width="1.05" stroke-linejoin="round"/>
<path d="M334.60,343.66L335.31,345.87L337.64,345.87L335.76,347.23L336.48,349.44L334.60,348.08L332.71,349.44L333.43,347.23L331.55,345.87L333.88,345.87Z" fill="#c8c800" stroke="#c8c800" stroke-width="1.05" stroke-linejoin="round"/>
<path d="M349.95,340.34L350.67,342.55L353.00,342.55L351.11,343.91L351.83,346.12L349.95,344.76L348.07,346.12L348.79,343.91L346.91,342.55L349.23,342.55Z" fill="#c8c800" stroke="#c8c800" stroke-width="1.05" stroke-linejoin="round"/>
<path d="M365.31,339.67L366.03,341.88L368.35,341.88L366.47,343.25L367.19,345.46L365.31,344.09L363.43,345.46L364.15,343.25L362.27,341.88L364.59,341.88Z" fill="#c8c800" stroke="#c8c800" stroke-width="1.05" stroke-linejoin="round"/>
<path d="M380.67,340.00L381.38,342.22L383.71,342.22L381.83,343.58L382.55,345.79L380.67,344.43L378.78,345.79L379.50,343.58L377.62,342.22L379.95,342.22Z" fill="#c8c800" stroke="#c8c800" stroke-width="1.05" stroke-linejoin="round"/>
<path d="M396.02,340.34L396.74,342.55L399.07,342.55L397.18,343.91L397.90,346.12L396.02,344.76L394.14,346.12L394.86,343.91L392.98,342.55L395.30,342.55Z" fill="#c8c800" stroke="#c8c800" stroke-width="1.05" stroke-linejoin="round"/>
<path d="M411.38,339.67L412.10,341.88L414.42,341.88L412.54,343.25L413.26,345.46L411.38,344.09L409.50,345.46L410.22,343.25L408.33,341.88L410.66,341.88Z" fill="#c8c800" stroke="#c8c800" stroke-width="1.05" stroke-linejoin="round"/>
<path d="M426.73,341.33L427.45,343.54L429.78,343.54L427.90,344.91L428.62,347.12L426.73,345.75L424.85,347.12L425.57,344.91L423.69,343.54L426.02,343.54Z" fill="#c8c800" stroke="#c8c800" stroke-width="1.05" stroke-linejoin="round"/>
<path d="M442.09,343.66L442.81,345.87L445.13,345.87L443.25,347.23L443.97,349.44L442.09,348.08L440.21,349.44L440.93,347.23L439.05,345.87L441.37,345.87Z" fill="#c8c800" stroke="#c8c800" stroke-width="1.05" stroke-linejoin="round"/>
<path d="M457.45,332.37L458.17,334.58L460.49,334.58L458.61,335.95L459.33,338.16L457.45,336.79L455.57,338.16L456.29,335.95L454.40,334.58L456.73,334.58Z" fill="#c8c800" stroke="#c8c800" stroke-width="1.05" stroke-linejoin="round"/>
<path d="M472.80,342.99L473.52,345.20L475.85,345.20L473.97,346.57L474.69,348.78L472.80,347.41L470.92,348.78L471.64,346.57L469.76,345.20L472.09,345.20Z" fill="#c8c800" stroke="#c8c800" stroke-width="1.05" stroke-linejoin="round"/>
<path d="M488.16,323.07L488.88,325.28L491.20,325.28L489.32,326.65L490.04,328.86L488.16,327.49L486.28,328.86L487.00,326.65L485.12,325.28L487.44,325.28Z" fill="#c8c800" stroke="#c8c800" stroke-width="1.05" stroke-linejoin="round"/>
<path d="M503.52,291.20L504.24,293.41L506.56,293.41L504.68,294.78L505.40,296.99L503.52,295.62L501.64,296.99L502.36,294.78L500.47,293.41L502.80,293.41Z" fill="#c8c800" stroke="#c8c800" stroke-width="1.05" stroke-linejoin="round"/>
<path d="M303.88,368.77L319.24,352.83L334.60,341.54L349.95,336.23L365.31,334.24L380.67,334.24L396.02,335.24L411.38,332.91L426.73,337.23L442.09,338.89L457.45,327.60L472.80,338.89L488.16,310.34L503.52,281.12" fill="none" stroke="#f0a8a8" stroke-width="1.7" stroke-dasharray="5.9,2.55"/>
<path d="M307.08,365.57L307.08,371.97L300.68,368.77Z" fill="#f8b0b0" stroke="#f8b0b0" stroke-width="1.05" stroke-linejoin="round"/>
<path d="M322.44,349.63L322.44,356.03L316.04,352.83Z" fill="#f8b0b0" stroke="#f8b0b0" stroke-width="1.05" stroke-linejoin="round"/>
<path d="M337.80,338.34L337.80,344.74L331.40,341.54Z" fill="#f8b0b0" stroke="#f8b0b0" stroke-width="1.05" stroke-linejoin="round"/>
<path d="M353.15,333.03L353.15,339.43L346.75,336.23Z" fill="#f8b0b0" stroke="#f8b0b0" stroke-width="1.05" stroke-linejoin="round"/>
<path d="M368.51,331.04L368.51,337.44L362.11,334.24Z" fill="#f8b0b0" stroke="#f8b0b0" stroke-width="1.05" stroke-linejoin="round"/>
<path d="M383.87,331.04L383.87,337.44L377.47,334.24Z" fill="#f8b0b0" stroke="#f8b0b0" stroke-width="1.05" stroke-linejoin="round"/>
<path d="M399.22,332.04L399.22,338.44L392.82,335.24Z" fill="#f8b0b0" stroke="#f8b0b0" stroke-width="1.05" stroke-linejoin="round"/>
<path d="M414.58,329.71L414.58,336.11L408.18,332.91Z" fill="#f8b0b0" stroke="#f8b0b0" stroke-width="1.05" stroke-linejoin="round"/>
<path d="M429.93,334.03L429.93,340.43L423.53,337.23Z" fill="#f8b0b0" stroke="#f8b0b0" stroke-width="1.05" stroke-linejoin="round"/>
<path d="M445.29,335.69L445.29,342.09L438.89,338.89Z" fill="#f8b0b0" stroke="#f8b0b0" stroke-width="1.05" stroke-linejoin="round"/>
<path d="M460.65,324.40L460.65,330.80L454.25,327.60Z" fill="#f8b0b0" stroke="#f8b0b0" stroke-width="1.05" stroke-linejoin="round"/>
<path d="M476.00,335.69L476.00,342.09L469.60,338.89Z" fill="#f8b0b0" stroke="#f8b0b0" stroke-width="1.05" stroke-linejoin="round"/>
<path d="M491.36,307.14L491.36,313.54L484.96,310.34Z" fill="#f8b0b0" stroke="#f8b0b0" stroke-width="1.05" stroke-linejoin="round"/>
<path d="M506.72,277.92L506.72,284.32L500.32,281.12Z" fill="#f8b0b0" stroke="#f8b0b0" stroke-width="1.05" stroke-linejoin="round"/>
</g>
<path d="M296.20,394.00v-3.5M296.20,228.00v3.5M357.63,394.00v-3.5M357.63,228.00v3.5M419.06,394.00v-3.5M419.06,228.00v3.5M480.48,394.00v-3.5M480.48,228.00v3.5M293.90,394.00h3.5M513.50,394.00h-3.5M293.90,360.80h3.5M513.50,360.80h-3.5M293.90,327.60h3.5M513.50,327.60h-3.5M293.90,294.40h3.5M513.50,294.40h-3.5M293.90,261.20h3.5M513.50,261.20h-3.5M293.90,228.00h3.5M513.50,228.00h-3.5" stroke="#333333" stroke-width="0.9" fill="none"/>
<rect x="293.9" y="228.0" width="219.6" height="166.0" fill="none" stroke="#333333" stroke-width="1.1"/>
<text x="296.20" y="405.80" font-size="10.3" text-anchor="middle" textLength="6.0" lengthAdjust="spacingAndGlyphs">0</text>
<text x="357.63" y="405.80" font-size="10.3" text-anchor="middle" textLength="19.0" lengthAdjust="spacingAndGlyphs">200</text>
<text x="419.06" y="405.80" font-size="10.3" text-anchor="middle" textLength="19.0" lengthAdjust="spacingAndGlyphs">400</text>
<text x="480.48" y="405.80" font-size="10.3" text-anchor="middle" textLength="19.0" lengthAdjust="spacingAndGlyphs">600</text>
<text x="403.70" y="419.30" font-size="12.4" text-anchor="middle" textLength="105.8" lengthAdjust="spacingAndGlyphs">Frequency (kHz)</text>
<g clip-path="url(#c12)">
<path d="M545.58,360.80L560.94,360.80L576.30,360.80L591.65,360.80L607.01,360.80L622.37,360.80L637.72,360.80L653.08,360.80L668.43,360.80L683.79,360.80L699.15,360.80L714.50,360.80L729.86,360.80L745.22,360.80" fill="none" stroke="#cc2424" stroke-width="1.7" stroke-dasharray="5.9,2.55"/>
<circle cx="545.58" cy="360.80" r="3.20" fill="#ff0000" stroke="#ff0000" stroke-width="1.05" stroke-linejoin="round"/>
<circle cx="560.94" cy="360.80" r="3.20" fill="#ff0000" stroke="#ff0000" stroke-width="1.05" stroke-linejoin="round"/>
<circle cx="576.30" cy="360.80" r="3.20" fill="#ff0000" stroke="#ff0000" stroke-width="1.05" stroke-linejoin="round"/>
<circle cx="591.65" cy="360.80" r="3.20" fill="#ff0000" stroke="#ff0000" stroke-width="1.05" stroke-linejoin="round"/>
<circle cx="607.01" cy="360.80" r="3.20" fill="#ff0000" stroke="#ff0000" stroke-width="1.05" stroke-linejoin="round"/>
<circle cx="622.37" cy="360.80" r="3.20" fill="#ff0000" stroke="#ff0000" stroke-width="1.05" stroke-linejoin="round"/>
<circle cx="637.72" cy="360.80" r="3.20" fill="#ff0000" stroke="#ff0000" stroke-width="1.05" stroke-linejoin="round"/>
<circle cx="653.08" cy="360.80" r="3.20" fill="#ff0000" stroke="#ff0000" stroke-width="1.05" stroke-linejoin="round"/>
<circle cx="668.43" cy="360.80" r="3.20" fill="#ff0000" stroke="#ff0000" stroke-width="1.05" stroke-linejoin="round"/>
<circle cx="683.79" cy="360.80" r="3.20" fill="#ff0000" stroke="#ff0000" stroke-width="1.05" stroke-linejoin="round"/>
<circle cx="699.15" cy="360.80" r="3.20" fill="#ff0000" stroke="#ff0000" stroke-width="1.05" stroke-linejoin="round"/>
<circle cx="714.50" cy="360.80" r="3.20" fill="#ff0000" stroke="#ff0000" stroke-width="1.05" stroke-linejoin="round"/>
<circle cx="729.86" cy="360.80" r="3.20" fill="#ff0000" stroke="#ff0000" stroke-width="1.05" stroke-linejoin="round"/>
<circle cx="745.22" cy="360.80" r="3.20" fill="#ff0000" stroke="#ff0000" stroke-width="1.05" stroke-linejoin="round"/>
<path d="M545.58,358.81L560.94,356.82L576.30,354.16L591.65,351.50L607.01,351.17L622.37,350.51L637.72,351.50L653.08,351.30L668.43,351.17L683.79,352.17L699.15,347.52L714.50,349.84L729.86,352.17L745.22,336.56" fill="none" stroke="#22c822" stroke-width="1.7" stroke-dasharray="5.9,2.55"/>
<path d="M542.38,355.61L548.78,355.61L545.58,362.01Z" fill="#00ff00" stroke="#00ff00" stroke-width="1.05" stroke-linejoin="round"/>
<path d="M557.74,353.62L564.14,353.62L560.94,360.02Z" fill="#00ff00" stroke="#00ff00" stroke-width="1.05" stroke-linejoin="round"/>
<path d="M573.10,350.96L579.50,350.96L576.30,357.36Z" fill="#00ff00" stroke="#00ff00" stroke-width="1.05" stroke-linejoin="round"/>
<path d="M588.45,348.30L594.85,348.30L591.65,354.70Z" fill="#00ff00" stroke="#00ff00" stroke-width="1.05" stroke-linejoin="round"/>
<path d="M603.81,347.97L610.21,347.97L607.01,354.37Z" fill="#00ff00" stroke="#00ff00" stroke-width="1.05" stroke-linejoin="round"/>
<path d="M619.17,347.31L625.57,347.31L622.37,353.71Z" fill="#00ff00" stroke="#00ff00" stroke-width="1.05" stroke-linejoin="round"/>
<path d="M634.52,348.30L640.92,348.30L637.72,354.70Z" fill="#00ff00" stroke="#00ff00" stroke-width="1.05" stroke-linejoin="round"/>
<path d="M649.88,348.10L656.28,348.10L653.08,354.50Z" fill="#00ff00" stroke="#00ff00" stroke-width="1.05" stroke-linejoin="round"/>
<path d="M665.23,347.97L671.63,347.97L668.43,354.37Z" fill="#00ff00" stroke="#00ff00" stroke-width="1.05" stroke-linejoin="round"/>
<path d="M680.59,348.97L686.99,348.97L683.79,355.37Z" fill="#00ff00" stroke="#00ff00" stroke-width="1.05" stroke-linejoin="round"/>
<path d="M695.95,344.32L702.35,344.32L699.15,350.72Z" fill="#00ff00" stroke="#00ff00" stroke-width="1.05" stroke-linejoin="round"/>
<path d="M711.30,346.64L717.70,346.64L714.50,353.04Z" fill="#00ff00" stroke="#00ff00" stroke-width="1.05" stroke-linejoin="round"/>
<path d="M726.66,348.97L733.06,348.97L729.86,355.37Z" fill="#00ff00" stroke="#00ff00" stroke-width="1.05" stroke-linejoin="round"/>
<path d="M742.02,333.36L748.42,333.36L745.22,339.76Z" fill="#00ff00" stroke="#00ff00" stroke-width="1.05" stroke-linejoin="round"/>
<path d="M545.58,358.81L560.94,354.82L576.30,349.84L591.65,345.53L607.01,344.20L622.37,342.87L637.72,345.53L653.08,344.86L668.43,344.86L683.79,347.19L699.15,339.22L714.50,344.53L729.86,344.20L745.22,322.95" fill="none" stroke="#1010b4" stroke-width="1.7" stroke-dasharray="5.9,2.55"/>
<path d="M542.38,355.61L548.78,362.01M542.38,362.01L548.78,355.61" stroke="#0000ff" stroke-width="1.05" fill="none"/>
<path d="M557.74,351.62L564.14,358.02M557.74,358.02L564.14,351.62" stroke="#0000ff" stroke-width="1.05" fill="none"/>
<path d="M573.10,346.64L579.50,353.04M573.10,353.04L579.50,346.64" stroke="#0000ff" stroke-width="1.05" fill="none"/>
<path d="M588.45,342.33L594.85,348.73M588.45,348.73L594.85,342.33" stroke="#0000ff" stroke-width="1.05" fill="none"/>
<path d="M603.81,341.00L610.21,347.40M603.81,347.40L610.21,341.00" stroke="#0000ff" stroke-width="1.05" fill="none"/>
<path d="M619.17,339.67L625.57,346.07M619.17,346.07L625.57,339.67" stroke="#0000ff" stroke-width="1.05" fill="none"/>
<path d="M634.52,342.33L640.92,348.73M634.52,348.73L640.92,342.33" stroke="#0000ff" stroke-width="1.05" fill="none"/>
<path d="M649.88,341.66L656.28,348.06M649.88,348.06L656.28,341.66" stroke="#0000ff" stroke-width="1.05" fill="none"/>
<path d="M665.23,341.66L671.63,348.06M665.23,348.06L671.63,341.66" stroke="#0000ff" stroke-width="1.05" fill="none"/>
<path d="M680.59,343.99L686.99,350.39M680.59,350.39L686.99,343.99" stroke="#0000ff" stroke-width="1.05" fill="none"/>
<path d="M695.95,336.02L702.35,342.42M695.95,342.42L702.35,336.02" stroke="#0000ff" stroke-width="1.05" fill="none"/>
<path d="M711.30,341.33L717.70,347.73M711.30,347.73L717.70,341.33" stroke="#0000ff" stroke-width="1.05" fill="none"/>
<path d="M726.66,341.00L733.06,347.40M726.66,347.40L733.06,341.00" stroke="#0000ff" stroke-width="1.05" fill="none"/>
<path d="M742.02,319.75L748.42,326.15M742.02,326.15L748.42,319.75" stroke="#0000ff" stroke-width="1.05" fill="none"/>
<path d="M545.58,360.80L560.94,354.16L576.30,343.54L591.65,334.24L607.01,329.59L622.37,327.27L637.72,331.92L653.08,331.58L668.43,332.25L683.79,335.57L699.15,325.94L714.50,333.58L729.86,325.61L745.22,308.34" fill="none" stroke="#c4c030" stroke-width="1.7" stroke-dasharray="5.9,2.55"/>
<path d="M545.58,357.60L546.30,359.81L548.63,359.81L546.74,361.18L547.46,363.39L545.58,362.02L543.70,363.39L544.42,361.18L542.54,359.81L544.86,359.81Z" fill="#c8c800" stroke="#c8c800" stroke-width="1.05" stroke-linejoin="round"/>
<path d="M560.94,350.96L561.66,353.17L563.98,353.17L562.10,354.54L562.82,356.75L560.94,355.38L559.06,356.75L559.78,354.54L557.90,353.17L560.22,353.17Z" fill="#c8c800" stroke="#c8c800" stroke-width="1.05" stroke-linejoin="round"/>
<path d="M576.30,340.34L577.01,342.55L579.34,342.55L577.46,343.91L578.18,346.12L576.30,344.76L574.41,346.12L575.13,343.91L573.25,342.55L575.58,342.55Z" fill="#c8c800" stroke="#c8c800" stroke-width="1.05" stroke-linejoin="round"/>
<path d="M591.65,331.04L592.37,333.25L594.70,333.25L592.81,334.62L593.53,336.83L591.65,335.46L589.77,336.83L590.49,334.62L588.61,333.25L590.93,333.25Z" fill="#c8c800" stroke="#c8c800" stroke-width="1.05" stroke-linejoin="round"/>
<path d="M607.01,326.39L607.73,328.60L610.05,328.60L608.17,329.97L608.89,332.18L607.01,330.81L605.13,332.18L605.85,329.97L603.97,328.60L606.29,328.60Z" fill="#c8c800" stroke="#c8c800" stroke-width="1.05" stroke-linejoin="round"/>
<path d="M622.37,324.07L623.08,326.28L625.41,326.28L623.53,327.65L624.25,329.86L622.37,328.49L620.48,329.86L621.20,327.65L619.32,326.28L621.65,326.28Z" fill="#c8c800" stroke="#c8c800" stroke-width="1.05" stroke-linejoin="round"/>
<path d="M637.72,328.72L638.44,330.93L640.77,330.93L638.88,332.29L639.60,334.50L637.72,333.14L635.84,334.50L636.56,332.29L634.68,330.93L637.00,330.93Z" fill="#c8c800" stroke="#c8c800" stroke-width="1.05" stroke-linejoin="round"/>
<path d="M653.08,328.38L653.80,330.60L656.12,330.60L654.24,331.96L654.96,334.17L653.08,332.81L651.20,334.17L651.92,331.96L650.03,330.60L652.36,330.60Z" fill="#c8c800" stroke="#c8c800" stroke-width="1.05" stroke-linejoin="round"/>
<path d="M668.43,329.05L669.15,331.26L671.48,331.26L669.60,332.63L670.32,334.84L668.43,333.47L666.55,334.84L667.27,332.63L665.39,331.26L667.72,331.26Z" fill="#c8c800" stroke="#c8c800" stroke-width="1.05" stroke-linejoin="round"/>
<path d="M683.79,332.37L684.51,334.58L686.83,334.58L684.95,335.95L685.67,338.16L683.79,336.79L681.91,338.16L682.63,335.95L680.75,334.58L683.07,334.58Z" fill="#c8c800" stroke="#c8c800" stroke-width="1.05" stroke-linejoin="round"/>
<path d="M699.15,322.74L699.87,324.95L702.19,324.95L700.31,326.32L701.03,328.53L699.15,327.16L697.27,328.53L697.99,326.32L696.10,324.95L698.43,324.95Z" fill="#c8c800" stroke="#c8c800" stroke-width="1.05" stroke-linejoin="round"/>
<path d="M714.50,330.38L715.22,332.59L717.55,332.59L715.67,333.95L716.39,336.16L714.50,334.80L712.62,336.16L713.34,333.95L711.46,332.59L713.79,332.59Z" fill="#c8c800" stroke="#c8c800" stroke-width="1.05" stroke-linejoin="round"/>
<path d="M729.86,322.41L730.58,324.62L732.90,324.62L731.02,325.99L731.74,328.20L729.86,326.83L727.98,328.20L728.70,325.99L726.82,324.62L729.14,324.62Z" fill="#c8c800" stroke="#c8c800" stroke-width="1.05" stroke-linejoin="round"/>
<path d="M745.22,305.14L745.94,307.36L748.26,307.36L746.38,308.72L747.10,310.93L745.22,309.57L743.34,310.93L744.06,308.72L742.17,307.36L744.50,307.36Z" fill="#c8c800" stroke="#c8c800" stroke-width="1.05" stroke-linejoin="round"/>
<path d="M545.58,360.80L560.94,350.18L576.30,334.24L591.65,320.30L607.01,311.66L622.37,307.68L637.72,313.99L653.08,313.99L668.43,315.65L683.79,320.63L699.15,309.01L714.50,318.64L729.86,309.01L745.22,287.10" fill="none" stroke="#f0a8a8" stroke-width="1.7" stroke-dasharray="5.9,2.55"/>
<path d="M548.78,357.60L548.78,364.00L542.38,360.80Z" fill="#f8b0b0" stroke="#f8b0b0" stroke-width="1.05" stroke-linejoin="round"/>
<path d="M564.14,346.98L564.14,353.38L557.74,350.18Z" fill="#f8b0b0" stroke="#f8b0b0" stroke-width="1.05" stroke-linejoin="round"/>
<path d="M579.50,331.04L579.50,337.44L573.10,334.24Z" fill="#f8b0b0" stroke="#f8b0b0" stroke-width="1.05" stroke-linejoin="round"/>
<path d="M594.85,317.10L594.85,323.50L588.45,320.30Z" fill="#f8b0b0" stroke="#f8b0b0" stroke-width="1.05" stroke-linejoin="round"/>
<path d="M610.21,308.46L610.21,314.86L603.81,311.66Z" fill="#f8b0b0" stroke="#f8b0b0" stroke-width="1.05" stroke-linejoin="round"/>
<path d="M625.57,304.48L625.57,310.88L619.17,307.68Z" fill="#f8b0b0" stroke="#f8b0b0" stroke-width="1.05" stroke-linejoin="round"/>
<path d="M640.92,310.79L640.92,317.19L634.52,313.99Z" fill="#f8b0b0" stroke="#f8b0b0" stroke-width="1.05" stroke-linejoin="round"/>
<path d="M656.28,310.79L656.28,317.19L649.88,313.99Z" fill="#f8b0b0" stroke="#f8b0b0" stroke-width="1.05" stroke-linejoin="round"/>
<path d="M671.63,312.45L671.63,318.85L665.23,315.65Z" fill="#f8b0b0" stroke="#f8b0b0" stroke-width="1.05" stroke-linejoin="round"/>
<path d="M686.99,317.43L686.99,323.83L680.59,320.63Z" fill="#f8b0b0" stroke="#f8b0b0" stroke-width="1.05" stroke-linejoin="round"/>
<path d="M702.35,305.81L702.35,312.21L695.95,309.01Z" fill="#f8b0b0" stroke="#f8b0b0" stroke-width="1.05" stroke-linejoin="round"/>
<path d="M717.70,315.44L717.70,321.84L711.30,318.64Z" fill="#f8b0b0" stroke="#f8b0b0" stroke-width="1.05" stroke-linejoin="round"/>
<path d="M733.06,305.81L733.06,312.21L726.66,309.01Z" fill="#f8b0b0" stroke="#f8b0b0" stroke-width="1.05" stroke-linejoin="round"/>
<path d="M748.42,283.90L748.42,290.30L742.02,287.10Z" fill="#f8b0b0" stroke="#f8b0b0" stroke-width="1.05" stroke-linejoin="round"/>
</g>
<path d="M537.90,394.00v-3.5M537.90,228.00v3.5M599.33,394.00v-3.5M599.33,228.00v3.5M660.76,394.00v-3.5M660.76,228.00v3.5M722.18,394.00v-3.5M722.18,228.00v3.5M535.60,394.00h3.5M755.20,394.00h-3.5M535.60,360.80h3.5M755.20,360.80h-3.5M535.60,327.60h3.5M755.20,327.60h-3.5M535.60,294.40h3.5M755.20,294.40h-3.5M535.60,261.20h3.5M755.20,261.20h-3.5M535.60,228.00h3.5M755.20,228.00h-3.5" stroke="#333333" stroke-width="0.9" fill="none"/>
<rect x="535.6" y="228.0" width="219.6" height="166.0" fill="none" stroke="#333333" stroke-width="1.1"/>
<text x="537.90" y="405.80" font-size="10.3" text-anchor="middle" textLength="6.0" lengthAdjust="spacingAndGlyphs">0</text>
<text x="599.33" y="405.80" font-size="10.3" text-anchor="middle" textLength="19.0" lengthAdjust="spacingAndGlyphs">200</text>
<text x="660.76" y="405.80" font-size="10.3" text-anchor="middle" textLength="19.0" lengthAdjust="spacingAndGlyphs">400</text>
<text x="722.18" y="405.80" font-size="10.3" text-anchor="middle" textLength="19.0" lengthAdjust="spacingAndGlyphs">600</text>
<text x="645.40" y="419.30" font-size="12.4" text-anchor="middle" textLength="105.8" lengthAdjust="spacingAndGlyphs">Frequency (kHz)</text>
<g clip-path="url(#c20)">
<path d="M62.18,588.20L95.45,588.20L128.73,588.20L195.27,586.39L261.82,586.03" fill="none" stroke="#cc2424" stroke-width="1.7" stroke-dasharray="5.9,2.55"/>
<circle cx="62.18" cy="588.20" r="3.20" fill="#ff0000" stroke="#ff0000" stroke-width="1.05" stroke-linejoin="round"/>
<circle cx="95.45" cy="588.20" r="3.20" fill="#ff0000" stroke="#ff0000" stroke-width="1.05" stroke-linejoin="round"/>
<circle cx="128.73" cy="588.20" r="3.20" fill="#ff0000" stroke="#ff0000" stroke-width="1.05" stroke-linejoin="round"/>
<circle cx="195.27" cy="586.39" r="3.20" fill="#ff0000" stroke="#ff0000" stroke-width="1.05" stroke-linejoin="round"/>
<circle cx="261.82" cy="586.03" r="3.20" fill="#ff0000" stroke="#ff0000" stroke-width="1.05" stroke-linejoin="round"/>
<path d="M62.18,588.20L95.45,586.93L128.73,586.03L195.27,578.61L261.82,573.72" fill="none" stroke="#22c822" stroke-width="1.7" stroke-dasharray="5.9,2.55"/>
<path d="M58.98,585.00L65.38,585.00L62.18,591.40Z" fill="#00ff00" stroke="#00ff00" stroke-width="1.05" stroke-linejoin="round"/>
<path d="M92.25,583.73L98.65,583.73L95.45,590.13Z" fill="#00ff00" stroke="#00ff00" stroke-width="1.05" stroke-linejoin="round"/>
<path d="M125.53,582.83L131.93,582.83L128.73,589.23Z" fill="#00ff00" stroke="#00ff00" stroke-width="1.05" stroke-linejoin="round"/>
<path d="M192.07,575.41L198.47,575.41L195.27,581.81Z" fill="#00ff00" stroke="#00ff00" stroke-width="1.05" stroke-linejoin="round"/>
<path d="M258.62,570.52L265.02,570.52L261.82,576.92Z" fill="#00ff00" stroke="#00ff00" stroke-width="1.05" stroke-linejoin="round"/>
<path d="M62.18,588.20L95.45,589.65L128.73,591.10L195.27,587.30L261.82,580.96" fill="none" stroke="#1010b4" stroke-width="1.7" stroke-dasharray="5.9,2.55"/>
<path d="M58.98,585.00L65.38,591.40M58.98,591.40L65.38,585.00" stroke="#0000ff" stroke-width="1.05" fill="none"/>
<path d="M92.25,586.45L98.65,592.85M92.25,592.85L98.65,586.45" stroke="#0000ff" stroke-width="1.05" fill="none"/>
<path d="M125.53,587.90L131.93,594.30M125.53,594.30L131.93,587.90" stroke="#0000ff" stroke-width="1.05" fill="none"/>
<path d="M192.07,584.10L198.47,590.50M192.07,590.50L198.47,584.10" stroke="#0000ff" stroke-width="1.05" fill="none"/>
<path d="M258.62,577.76L265.02,584.16M258.62,584.16L265.02,577.76" stroke="#0000ff" stroke-width="1.05" fill="none"/>
<path d="M62.18,588.20L95.45,588.20L128.73,588.20L195.27,586.39L261.82,594.35" fill="none" stroke="#c4c030" stroke-width="1.7" stroke-dasharray="5.9,2.55"/>
<path d="M62.18,585.00L62.90,587.21L65.23,587.21L63.34,588.58L64.06,590.79L62.18,589.42L60.30,590.79L61.02,588.58L59.14,587.21L61.46,587.21Z" fill="#c8c800" stroke="#c8c800" stroke-width="1.05" stroke-linejoin="round"/>
<path d="M95.45,585.00L96.17,587.21L98.50,587.21L96.62,588.58L97.34,590.79L95.45,589.42L93.57,590.79L94.29,588.58L92.41,587.21L94.74,587.21Z" fill="#c8c800" stroke="#c8c800" stroke-width="1.05" stroke-linejoin="round"/>
<path d="M128.73,585.00L129.45,587.21L131.77,587.21L129.89,588.58L130.61,590.79L128.73,589.42L126.85,590.79L127.56,588.58L125.68,587.21L128.01,587.21Z" fill="#c8c800" stroke="#c8c800" stroke-width="1.05" stroke-linejoin="round"/>
<path d="M195.27,583.19L195.99,585.40L198.32,585.40L196.44,586.77L197.15,588.98L195.27,587.61L193.39,588.98L194.11,586.77L192.23,585.40L194.55,585.40Z" fill="#c8c800" stroke="#c8c800" stroke-width="1.05" stroke-linejoin="round"/>
<path d="M261.82,591.15L262.54,593.37L264.86,593.37L262.98,594.73L263.70,596.94L261.82,595.58L259.94,596.94L260.66,594.73L258.77,593.37L261.10,593.37Z" fill="#c8c800" stroke="#c8c800" stroke-width="1.05" stroke-linejoin="round"/>
<path d="M62.18,588.20L95.45,588.20L128.73,588.20L195.27,584.22L261.82,578.25" fill="none" stroke="#f0a8a8" stroke-width="1.7" stroke-dasharray="5.9,2.55"/>
<path d="M65.38,585.00L65.38,591.40L58.98,588.20Z" fill="#f8b0b0" stroke="#f8b0b0" stroke-width="1.05" stroke-linejoin="round"/>
<path d="M98.65,585.00L98.65,591.40L92.25,588.20Z" fill="#f8b0b0" stroke="#f8b0b0" stroke-width="1.05" stroke-linejoin="round"/>
<path d="M131.93,585.00L131.93,591.40L125.53,588.20Z" fill="#f8b0b0" stroke="#f8b0b0" stroke-width="1.05" stroke-linejoin="round"/>
<path d="M198.47,581.02L198.47,587.42L192.07,584.22Z" fill="#f8b0b0" stroke="#f8b0b0" stroke-width="1.05" stroke-linejoin="round"/>
<path d="M265.02,575.04L265.02,581.45L258.62,578.25Z" fill="#f8b0b0" stroke="#f8b0b0" stroke-width="1.05" stroke-linejoin="round"/>
</g>
<path d="M62.18,601.60v3.5M128.73,601.60v3.5M195.27,601.60v3.5M261.82,601.60v3.5M52.20,588.20h-3.5M52.20,552.00h-3.5M52.20,515.80h-3.5M52.20,479.60h-3.5M52.20,443.40h-3.5" stroke="#333333" stroke-width="0.9" fill="none"/>
<rect x="52.2" y="435.6" width="219.6" height="166.0" fill="none" stroke="#333333" stroke-width="1.1"/>
<text x="62.18" y="617.00" font-size="10.3" text-anchor="middle" textLength="12.8" lengthAdjust="spacingAndGlyphs">20</text>
<text x="128.73" y="617.00" font-size="10.3" text-anchor="middle" textLength="12.8" lengthAdjust="spacingAndGlyphs">40</text>
<text x="195.27" y="617.00" font-size="10.3" text-anchor="middle" textLength="12.8" lengthAdjust="spacingAndGlyphs">60</text>
<text x="261.82" y="617.00" font-size="10.3" text-anchor="middle" textLength="12.8" lengthAdjust="spacingAndGlyphs">80</text>
<text x="43.00" y="591.90" font-size="10.3" text-anchor="end" textLength="14.1" lengthAdjust="spacingAndGlyphs">1.0</text>
<text x="43.00" y="555.70" font-size="10.3" text-anchor="end" textLength="14.1" lengthAdjust="spacingAndGlyphs">1.2</text>
<text x="43.00" y="519.50" font-size="10.3" text-anchor="end" textLength="14.1" lengthAdjust="spacingAndGlyphs">1.4</text>
<text x="43.00" y="483.30" font-size="10.3" text-anchor="end" textLength="14.1" lengthAdjust="spacingAndGlyphs">1.6</text>
<text x="43.00" y="447.10" font-size="10.3" text-anchor="end" textLength="14.1" lengthAdjust="spacingAndGlyphs">1.8</text>
<text x="166.60" y="630.70" font-size="12.4" text-anchor="middle" textLength="112.8" lengthAdjust="spacingAndGlyphs">Temperature (°C)</text>
<g clip-path="url(#c21)">
<path d="M303.88,588.20L337.15,583.49L370.43,578.06L436.97,570.10L503.52,564.67" fill="none" stroke="#cc2424" stroke-width="1.7" stroke-dasharray="5.9,2.55"/>
<circle cx="303.88" cy="588.20" r="3.20" fill="#ff0000" stroke="#ff0000" stroke-width="1.05" stroke-linejoin="round"/>
<circle cx="337.15" cy="583.49" r="3.20" fill="#ff0000" stroke="#ff0000" stroke-width="1.05" stroke-linejoin="round"/>
<circle cx="370.43" cy="578.06" r="3.20" fill="#ff0000" stroke="#ff0000" stroke-width="1.05" stroke-linejoin="round"/>
<circle cx="436.97" cy="570.10" r="3.20" fill="#ff0000" stroke="#ff0000" stroke-width="1.05" stroke-linejoin="round"/>
<circle cx="503.52" cy="564.67" r="3.20" fill="#ff0000" stroke="#ff0000" stroke-width="1.05" stroke-linejoin="round"/>
<path d="M303.88,588.20L337.15,576.25L370.43,563.40L436.97,541.68L503.52,521.77" fill="none" stroke="#22c822" stroke-width="1.7" stroke-dasharray="5.9,2.55"/>
<path d="M300.68,585.00L307.08,585.00L303.88,591.40Z" fill="#00ff00" stroke="#00ff00" stroke-width="1.05" stroke-linejoin="round"/>
<path d="M333.95,573.05L340.35,573.05L337.15,579.45Z" fill="#00ff00" stroke="#00ff00" stroke-width="1.05" stroke-linejoin="round"/>
<path d="M367.23,560.20L373.63,560.20L370.43,566.60Z" fill="#00ff00" stroke="#00ff00" stroke-width="1.05" stroke-linejoin="round"/>
<path d="M433.77,538.48L440.17,538.48L436.97,544.88Z" fill="#00ff00" stroke="#00ff00" stroke-width="1.05" stroke-linejoin="round"/>
<path d="M500.32,518.57L506.72,518.57L503.52,524.97Z" fill="#00ff00" stroke="#00ff00" stroke-width="1.05" stroke-linejoin="round"/>
<path d="M303.88,588.20L337.15,576.25L370.43,563.40L436.97,539.33L503.52,515.80" fill="none" stroke="#1010b4" stroke-width="1.7" stroke-dasharray="5.9,2.55"/>
<path d="M300.68,585.00L307.08,591.40M300.68,591.40L307.08,585.00" stroke="#0000ff" stroke-width="1.05" fill="none"/>
<path d="M333.95,573.05L340.35,579.45M333.95,579.45L340.35,573.05" stroke="#0000ff" stroke-width="1.05" fill="none"/>
<path d="M367.23,560.20L373.63,566.60M367.23,566.60L373.63,560.20" stroke="#0000ff" stroke-width="1.05" fill="none"/>
<path d="M433.77,536.13L440.17,542.53M433.77,542.53L440.17,536.13" stroke="#0000ff" stroke-width="1.05" fill="none"/>
<path d="M500.32,512.60L506.72,519.00M500.32,519.00L506.72,512.60" stroke="#0000ff" stroke-width="1.05" fill="none"/>
<path d="M303.88,588.20L337.15,576.25L370.43,563.40L436.97,539.33L503.52,515.80" fill="none" stroke="#c4c030" stroke-width="1.7" stroke-dasharray="5.9,2.55"/>
<path d="M303.88,585.00L304.60,587.21L306.93,587.21L305.04,588.58L305.76,590.79L303.88,589.42L302.00,590.79L302.72,588.58L300.84,587.21L303.16,587.21Z" fill="#c8c800" stroke="#c8c800" stroke-width="1.05" stroke-linejoin="round"/>
<path d="M337.15,573.05L337.87,575.27L340.20,575.27L338.32,576.63L339.04,578.84L337.15,577.48L335.27,578.84L335.99,576.63L334.11,575.27L336.44,575.27Z" fill="#c8c800" stroke="#c8c800" stroke-width="1.05" stroke-linejoin="round"/>
<path d="M370.43,560.20L371.15,562.41L373.47,562.41L371.59,563.78L372.31,565.99L370.43,564.63L368.55,565.99L369.26,563.78L367.38,562.41L369.71,562.41Z" fill="#c8c800" stroke="#c8c800" stroke-width="1.05" stroke-linejoin="round"/>
<path d="M436.97,536.13L437.69,538.34L440.02,538.34L438.14,539.71L438.85,541.92L436.97,540.55L435.09,541.92L435.81,539.71L433.93,538.34L436.25,538.34Z" fill="#c8c800" stroke="#c8c800" stroke-width="1.05" stroke-linejoin="round"/>
<path d="M503.52,512.60L504.24,514.81L506.56,514.81L504.68,516.18L505.40,518.39L503.52,517.02L501.64,518.39L502.36,516.18L500.47,514.81L502.80,514.81Z" fill="#c8c800" stroke="#c8c800" stroke-width="1.05" stroke-linejoin="round"/>
<path d="M303.88,588.20L337.15,576.25L370.43,563.40L436.97,539.33L503.52,515.08" fill="none" stroke="#f0a8a8" stroke-width="1.7" stroke-dasharray="5.9,2.55"/>
<path d="M307.08,585.00L307.08,591.40L300.68,588.20Z" fill="#f8b0b0" stroke="#f8b0b0" stroke-width="1.05" stroke-linejoin="round"/>
<path d="M340.35,573.05L340.35,579.45L333.95,576.25Z" fill="#f8b0b0" stroke="#f8b0b0" stroke-width="1.05" stroke-linejoin="round"/>
<path d="M373.63,560.20L373.63,566.60L367.23,563.40Z" fill="#f8b0b0" stroke="#f8b0b0" stroke-width="1.05" stroke-linejoin="round"/>
<path d="M440.17,536.13L440.17,542.53L433.77,539.33Z" fill="#f8b0b0" stroke="#f8b0b0" stroke-width="1.05" stroke-linejoin="round"/>
<path d="M506.72,511.88L506.72,518.28L500.32,515.08Z" fill="#f8b0b0" stroke="#f8b0b0" stroke-width="1.05" stroke-linejoin="round"/>
</g>
<path d="M303.88,601.60v3.5M370.43,601.60v3.5M436.97,601.60v3.5M503.52,601.60v3.5M293.90,588.20h-3.5M293.90,552.00h-3.5M293.90,515.80h-3.5M293.90,479.60h-3.5M293.90,443.40h-3.5" stroke="#333333" stroke-width="0.9" fill="none"/>
<rect x="293.9" y="435.6" width="219.6" height="166.0" fill="none" stroke="#333333" stroke-width="1.1"/>
<text x="303.88" y="617.00" font-size="10.3" text-anchor="middle" textLength="12.8" lengthAdjust="spacingAndGlyphs">20</text>
<text x="370.43" y="617.00" font-size="10.3" text-anchor="middle" textLength="12.8" lengthAdjust="spacingAndGlyphs">40</text>
<text x="436.97" y="617.00" font-size="10.3" text-anchor="middle" textLength="12.8" lengthAdjust="spacingAndGlyphs">60</text>
<text x="503.52" y="617.00" font-size="10.3" text-anchor="middle" textLength="12.8" lengthAdjust="spacingAndGlyphs">80</text>
<text x="408.30" y="630.70" font-size="12.4" text-anchor="middle" textLength="112.8" lengthAdjust="spacingAndGlyphs">Temperature (°C)</text>
<g clip-path="url(#c22)">
<path d="M545.58,588.20L578.85,575.53L612.13,570.10L678.67,567.38L745.22,558.52" fill="none" stroke="#cc2424" stroke-width="1.7" stroke-dasharray="5.9,2.55"/>
<circle cx="545.58" cy="588.20" r="3.20" fill="#ff0000" stroke="#ff0000" stroke-width="1.05" stroke-linejoin="round"/>
<circle cx="578.85" cy="575.53" r="3.20" fill="#ff0000" stroke="#ff0000" stroke-width="1.05" stroke-linejoin="round"/>
<circle cx="612.13" cy="570.10" r="3.20" fill="#ff0000" stroke="#ff0000" stroke-width="1.05" stroke-linejoin="round"/>
<circle cx="678.67" cy="567.38" r="3.20" fill="#ff0000" stroke="#ff0000" stroke-width="1.05" stroke-linejoin="round"/>
<circle cx="745.22" cy="558.52" r="3.20" fill="#ff0000" stroke="#ff0000" stroke-width="1.05" stroke-linejoin="round"/>
<path d="M545.58,588.20L578.85,563.95L612.13,548.38L678.67,515.80L745.22,477.79" fill="none" stroke="#22c822" stroke-width="1.7" stroke-dasharray="5.9,2.55"/>
<path d="M542.38,585.00L548.78,585.00L545.58,591.40Z" fill="#00ff00" stroke="#00ff00" stroke-width="1.05" stroke-linejoin="round"/>
<path d="M575.65,560.75L582.05,560.75L578.85,567.15Z" fill="#00ff00" stroke="#00ff00" stroke-width="1.05" stroke-linejoin="round"/>
<path d="M608.93,545.18L615.33,545.18L612.13,551.58Z" fill="#00ff00" stroke="#00ff00" stroke-width="1.05" stroke-linejoin="round"/>
<path d="M675.47,512.60L681.87,512.60L678.67,519.00Z" fill="#00ff00" stroke="#00ff00" stroke-width="1.05" stroke-linejoin="round"/>
<path d="M742.02,474.59L748.42,474.59L745.22,480.99Z" fill="#00ff00" stroke="#00ff00" stroke-width="1.05" stroke-linejoin="round"/>
<path d="M545.58,588.20L578.85,561.05L612.13,542.95L678.67,502.59L745.22,454.80" fill="none" stroke="#1010b4" stroke-width="1.7" stroke-dasharray="5.9,2.55"/>
<path d="M542.38,585.00L548.78,591.40M542.38,591.40L548.78,585.00" stroke="#0000ff" stroke-width="1.05" fill="none"/>
<path d="M575.65,557.85L582.05,564.25M575.65,564.25L582.05,557.85" stroke="#0000ff" stroke-width="1.05" fill="none"/>
<path d="M608.93,539.75L615.33,546.15M608.93,546.15L615.33,539.75" stroke="#0000ff" stroke-width="1.05" fill="none"/>
<path d="M675.47,499.39L681.87,505.79M675.47,505.79L681.87,499.39" stroke="#0000ff" stroke-width="1.05" fill="none"/>
<path d="M742.02,451.60L748.42,458.00M742.02,458.00L748.42,451.60" stroke="#0000ff" stroke-width="1.05" fill="none"/>
<path d="M545.58,588.20L578.85,560.15L612.13,539.69L678.67,496.61L745.22,443.40" fill="none" stroke="#c4c030" stroke-width="1.7" stroke-dasharray="5.9,2.55"/>
<path d="M545.58,585.00L546.30,587.21L548.63,587.21L546.74,588.58L547.46,590.79L545.58,589.42L543.70,590.79L544.42,588.58L542.54,587.21L544.86,587.21Z" fill="#c8c800" stroke="#c8c800" stroke-width="1.05" stroke-linejoin="round"/>
<path d="M578.85,556.95L579.57,559.16L581.90,559.16L580.02,560.52L580.74,562.73L578.85,561.37L576.97,562.73L577.69,560.52L575.81,559.16L578.14,559.16Z" fill="#c8c800" stroke="#c8c800" stroke-width="1.05" stroke-linejoin="round"/>
<path d="M612.13,536.49L612.85,538.70L615.17,538.70L613.29,540.07L614.01,542.28L612.13,540.91L610.25,542.28L610.96,540.07L609.08,538.70L611.41,538.70Z" fill="#c8c800" stroke="#c8c800" stroke-width="1.05" stroke-linejoin="round"/>
<path d="M678.67,493.41L679.39,495.63L681.72,495.63L679.84,496.99L680.55,499.20L678.67,497.84L676.79,499.20L677.51,496.99L675.63,495.63L677.95,495.63Z" fill="#c8c800" stroke="#c8c800" stroke-width="1.05" stroke-linejoin="round"/>
<path d="M745.22,440.20L745.94,442.41L748.26,442.41L746.38,443.78L747.10,445.99L745.22,444.62L743.34,445.99L744.06,443.78L742.17,442.41L744.50,442.41Z" fill="#c8c800" stroke="#c8c800" stroke-width="1.05" stroke-linejoin="round"/>
<path d="M545.58,588.20L578.85,563.95L612.13,546.57L678.67,507.47L745.22,459.15" fill="none" stroke="#f0a8a8" stroke-width="1.7" stroke-dasharray="5.9,2.55"/>
<path d="M548.78,585.00L548.78,591.40L542.38,588.20Z" fill="#f8b0b0" stroke="#f8b0b0" stroke-width="1.05" stroke-linejoin="round"/>
<path d="M582.05,560.75L582.05,567.15L575.65,563.95Z" fill="#f8b0b0" stroke="#f8b0b0" stroke-width="1.05" stroke-linejoin="round"/>
<path d="M615.33,543.37L615.33,549.77L608.93,546.57Z" fill="#f8b0b0" stroke="#f8b0b0" stroke-width="1.05" stroke-linejoin="round"/>
<path d="M681.87,504.27L681.87,510.67L675.47,507.47Z" fill="#f8b0b0" stroke="#f8b0b0" stroke-width="1.05" stroke-linejoin="round"/>
<path d="M748.42,455.95L748.42,462.35L742.02,459.15Z" fill="#f8b0b0" stroke="#f8b0b0" stroke-width="1.05" stroke-linejoin="round"/>
</g>
<path d="M545.58,601.60v3.5M612.13,601.60v3.5M678.67,601.60v3.5M745.22,601.60v3.5M535.60,588.20h-3.5M535.60,552.00h-3.5M535.60,515.80h-3.5M535.60,479.60h-3.5M535.60,443.40h-3.5" stroke="#333333" stroke-width="0.9" fill="none"/>
<rect x="535.6" y="435.6" width="219.6" height="166.0" fill="none" stroke="#333333" stroke-width="1.1"/>
<text x="545.58" y="617.00" font-size="10.3" text-anchor="middle" textLength="12.8" lengthAdjust="spacingAndGlyphs">20</text>
<text x="612.13" y="617.00" font-size="10.3" text-anchor="middle" textLength="12.8" lengthAdjust="spacingAndGlyphs">40</text>
<text x="678.67" y="617.00" font-size="10.3" text-anchor="middle" textLength="12.8" lengthAdjust="spacingAndGlyphs">60</text>
<text x="745.22" y="617.00" font-size="10.3" text-anchor="middle" textLength="12.8" lengthAdjust="spacingAndGlyphs">80</text>
<text x="650.00" y="630.70" font-size="12.4" text-anchor="middle" textLength="112.8" lengthAdjust="spacingAndGlyphs">Temperature (°C)</text>
<text x="162.80" y="13.90" font-size="19.0" text-anchor="middle" textLength="121.5" lengthAdjust="spacingAndGlyphs">Ferucarbotran</text>
<text x="403.70" y="13.60" font-size="19.0" text-anchor="middle" textLength="72.5" lengthAdjust="spacingAndGlyphs">Perimag</text>
<text x="647.40" y="13.70" font-size="18.8" text-anchor="middle">L93</text>
<g transform="translate(20.8,103.3) rotate(-90)"><text x="0.00" y="0.00" font-size="12.4" text-anchor="middle" textLength="176.5" lengthAdjust="spacingAndGlyphs">Harmonics magnitudes (dB)</text></g>
<g transform="translate(13.0,312.6) rotate(-90)"><text x="0.00" y="0.00" font-size="12.4" text-anchor="middle" textLength="146.0" lengthAdjust="spacingAndGlyphs">Harmonics magnitudes</text></g>
<g transform="translate(27.0,309.6) rotate(-90)"><text x="0.00" y="0.00" font-size="12.4" text-anchor="middle" textLength="132.5" lengthAdjust="spacingAndGlyphs">(normalized to 20°C)</text></g>
<g transform="translate(9.3,520.3) rotate(-90)"><text x="0.00" y="0.00" font-size="12.4" text-anchor="middle" textLength="146.5" lengthAdjust="spacingAndGlyphs">Harmonics magnitudes</text></g>
<g transform="translate(23.3,516.5) rotate(-90)"><text x="0.00" y="0.00" font-size="12.4" text-anchor="middle" textLength="131.0" lengthAdjust="spacingAndGlyphs">(normalized to 20°C)</text></g>
<rect x="203.0" y="25.3" width="64.0" height="95.7" rx="2" ry="2" fill="#ffffff" fill-opacity="0.85" stroke="#d4d4d4" stroke-width="1"/>
<path d="M207.20,34.00H228.00" stroke="#cc2424" stroke-width="1.7" stroke-dasharray="5.9,2.55" fill="none"/>
<circle cx="217.60" cy="34.00" r="3.20" fill="#ff0000" stroke="#ff0000" stroke-width="1.05" stroke-linejoin="round"/>
<text x="236.50" y="37.70" font-size="10.3" text-anchor="start" textLength="26.2" lengthAdjust="spacingAndGlyphs">20°C</text>
<path d="M207.20,49.35H228.00" stroke="#22c822" stroke-width="1.7" stroke-dasharray="5.9,2.55" fill="none"/>
<path d="M214.40,46.15L220.80,46.15L217.60,52.55Z" fill="#00ff00" stroke="#00ff00" stroke-width="1.05" stroke-linejoin="round"/>
<text x="236.50" y="53.05" font-size="10.3" text-anchor="start" textLength="26.2" lengthAdjust="spacingAndGlyphs">30°C</text>
<path d="M207.20,64.70H228.00" stroke="#1010b4" stroke-width="1.7" stroke-dasharray="5.9,2.55" fill="none"/>
<path d="M214.40,61.50L220.80,67.90M214.40,67.90L220.80,61.50" stroke="#0000ff" stroke-width="1.05" fill="none"/>
<text x="236.50" y="68.40" font-size="10.3" text-anchor="start" textLength="26.2" lengthAdjust="spacingAndGlyphs">40°C</text>
<path d="M207.20,80.05H228.00" stroke="#c4c030" stroke-width="1.7" stroke-dasharray="5.9,2.55" fill="none"/>
<path d="M217.60,76.85L218.32,79.06L220.64,79.06L218.76,80.43L219.48,82.64L217.60,81.27L215.72,82.64L216.44,80.43L214.56,79.06L216.88,79.06Z" fill="#c8c800" stroke="#c8c800" stroke-width="1.05" stroke-linejoin="round"/>
<text x="236.50" y="83.75" font-size="10.3" text-anchor="start" textLength="26.2" lengthAdjust="spacingAndGlyphs">60°C</text>
<path d="M207.20,95.40H228.00" stroke="#f0a8a8" stroke-width="1.7" stroke-dasharray="5.9,2.55" fill="none"/>
<path d="M220.80,92.20L220.80,98.60L214.40,95.40Z" fill="#f8b0b0" stroke="#f8b0b0" stroke-width="1.05" stroke-linejoin="round"/>
<text x="236.50" y="99.10" font-size="10.3" text-anchor="start" textLength="26.2" lengthAdjust="spacingAndGlyphs">80°C</text>
<path d="M207.20,110.75H228.00" stroke="#6a6a6a" stroke-width="1.7" stroke-dasharray="5.9,2.55" fill="none"/>
<path d="M214.40,113.95L220.80,113.95L217.60,107.55Z" fill="#7f7f7f" stroke="#7f7f7f" stroke-width="1.05" stroke-linejoin="round"/>
<text x="236.50" y="114.45" font-size="10.3" text-anchor="start" textLength="25.0" lengthAdjust="spacingAndGlyphs">noise</text>
<rect x="57.8" y="233.2" width="63.400000000000006" height="79.90000000000003" rx="2" ry="2" fill="#ffffff" fill-opacity="0.85" stroke="#d4d4d4" stroke-width="1"/>
<path d="M62.00,241.80H82.80" stroke="#cc2424" stroke-width="1.7" stroke-dasharray="5.9,2.55" fill="none"/>
<circle cx="72.40" cy="241.80" r="3.20" fill="#ff0000" stroke="#ff0000" stroke-width="1.05" stroke-linejoin="round"/>
<text x="91.30" y="245.50" font-size="10.3" text-anchor="start" textLength="26.2" lengthAdjust="spacingAndGlyphs">20°C</text>
<path d="M62.00,257.15H82.80" stroke="#22c822" stroke-width="1.7" stroke-dasharray="5.9,2.55" fill="none"/>
<path d="M69.20,253.95L75.60,253.95L72.40,260.35Z" fill="#00ff00" stroke="#00ff00" stroke-width="1.05" stroke-linejoin="round"/>
<text x="91.30" y="260.85" font-size="10.3" text-anchor="start" textLength="26.2" lengthAdjust="spacingAndGlyphs">30°C</text>
<path d="M62.00,272.50H82.80" stroke="#1010b4" stroke-width="1.7" stroke-dasharray="5.9,2.55" fill="none"/>
<path d="M69.20,269.30L75.60,275.70M69.20,275.70L75.60,269.30" stroke="#0000ff" stroke-width="1.05" fill="none"/>
<text x="91.30" y="276.20" font-size="10.3" text-anchor="start" textLength="26.2" lengthAdjust="spacingAndGlyphs">40°C</text>
<path d="M62.00,287.85H82.80" stroke="#c4c030" stroke-width="1.7" stroke-dasharray="5.9,2.55" fill="none"/>
<path d="M72.40,284.65L73.12,286.86L75.44,286.86L73.56,288.23L74.28,290.44L72.40,289.07L70.52,290.44L71.24,288.23L69.36,286.86L71.68,286.86Z" fill="#c8c800" stroke="#c8c800" stroke-width="1.05" stroke-linejoin="round"/>
<text x="91.30" y="291.55" font-size="10.3" text-anchor="start" textLength="26.2" lengthAdjust="spacingAndGlyphs">60°C</text>
<path d="M62.00,303.20H82.80" stroke="#f0a8a8" stroke-width="1.7" stroke-dasharray="5.9,2.55" fill="none"/>
<path d="M75.60,300.00L75.60,306.40L69.20,303.20Z" fill="#f8b0b0" stroke="#f8b0b0" stroke-width="1.05" stroke-linejoin="round"/>
<text x="91.30" y="306.90" font-size="10.3" text-anchor="start" textLength="26.2" lengthAdjust="spacingAndGlyphs">80°C</text>
<rect x="185.9" y="440.8" width="80.49999999999997" height="80.09999999999997" rx="2" ry="2" fill="#ffffff" fill-opacity="0.85" stroke="#d4d4d4" stroke-width="1"/>
<path d="M190.10,449.30H210.90" stroke="#cc2424" stroke-width="1.7" stroke-dasharray="5.9,2.55" fill="none"/>
<circle cx="200.50" cy="449.30" r="3.20" fill="#ff0000" stroke="#ff0000" stroke-width="1.05" stroke-linejoin="round"/>
<text x="219.40" y="453.00" font-size="10.3" text-anchor="start" textLength="36.0" lengthAdjust="spacingAndGlyphs">75 kHz</text>
<path d="M190.10,464.70H210.90" stroke="#22c822" stroke-width="1.7" stroke-dasharray="5.9,2.55" fill="none"/>
<path d="M197.30,461.50L203.70,461.50L200.50,467.90Z" fill="#00ff00" stroke="#00ff00" stroke-width="1.05" stroke-linejoin="round"/>
<text x="219.40" y="468.40" font-size="10.3" text-anchor="start" textLength="43.4" lengthAdjust="spacingAndGlyphs">175 kHz</text>
<path d="M190.10,480.10H210.90" stroke="#1010b4" stroke-width="1.7" stroke-dasharray="5.9,2.55" fill="none"/>
<path d="M197.30,476.90L203.70,483.30M197.30,483.30L203.70,476.90" stroke="#0000ff" stroke-width="1.05" fill="none"/>
<text x="219.40" y="483.80" font-size="10.3" text-anchor="start" textLength="43.4" lengthAdjust="spacingAndGlyphs">275 kHz</text>
<path d="M190.10,495.50H210.90" stroke="#c4c030" stroke-width="1.7" stroke-dasharray="5.9,2.55" fill="none"/>
<path d="M200.50,492.30L201.22,494.51L203.54,494.51L201.66,495.88L202.38,498.09L200.50,496.72L198.62,498.09L199.34,495.88L197.46,494.51L199.78,494.51Z" fill="#c8c800" stroke="#c8c800" stroke-width="1.05" stroke-linejoin="round"/>
<text x="219.40" y="499.20" font-size="10.3" text-anchor="start" textLength="43.4" lengthAdjust="spacingAndGlyphs">375 kHz</text>
<path d="M190.10,510.90H210.90" stroke="#f0a8a8" stroke-width="1.7" stroke-dasharray="5.9,2.55" fill="none"/>
<path d="M203.70,507.70L203.70,514.10L197.30,510.90Z" fill="#f8b0b0" stroke="#f8b0b0" stroke-width="1.05" stroke-linejoin="round"/>
<text x="219.40" y="514.60" font-size="10.3" text-anchor="start" textLength="43.4" lengthAdjust="spacingAndGlyphs">425 kHz</text>
</svg>
</body></html>
